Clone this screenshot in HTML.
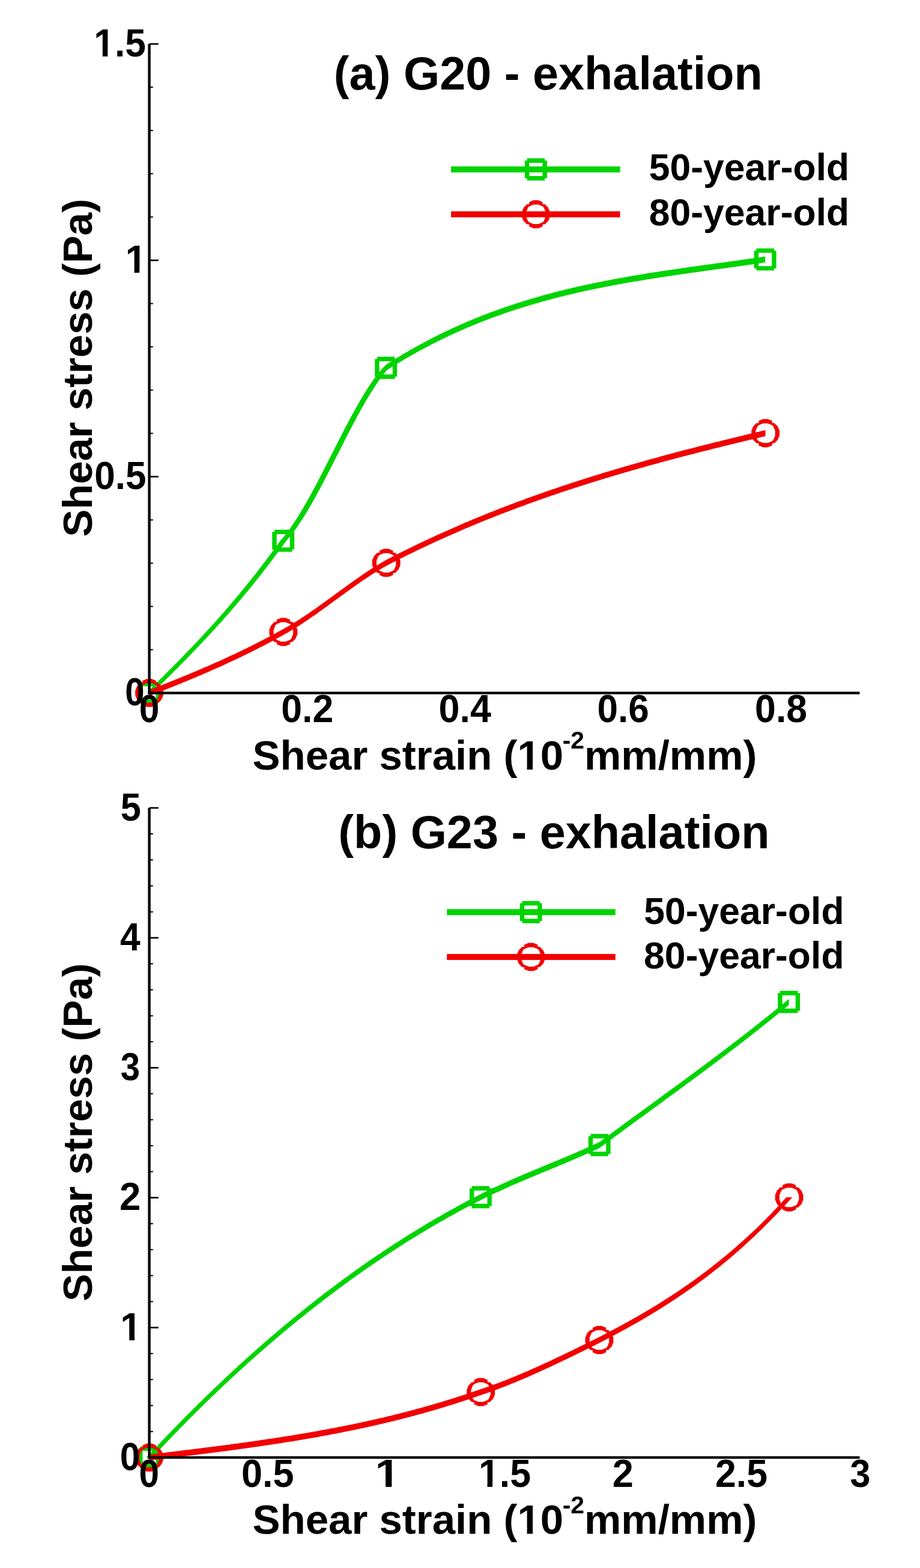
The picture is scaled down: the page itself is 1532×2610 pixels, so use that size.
<!DOCTYPE html>
<html><head><meta charset="utf-8"><title>Shear stress vs shear strain</title>
<style>
html,body{margin:0;padding:0;background:#fff;}
body{width:1532px;height:2610px;overflow:hidden;}
svg{display:block;}
text{font-family:'Liberation Sans', Arial, Helvetica, sans-serif;font-weight:bold;fill:#000;}
</style></head>
<body>
<svg xmlns="http://www.w3.org/2000/svg" width="1532" height="2610" viewBox="0 0 1532 2610">
<rect width="1532" height="2610" fill="#fff"/>
<path d="M248.60,1148.40 L250.59,1146.46 L250.59,1146.46 L252.58,1144.52 L252.58,1144.52 L254.58,1142.57 L254.58,1142.57 L256.57,1140.62 L256.57,1140.62 L258.56,1138.68 L258.56,1138.68 L260.55,1136.72 L260.55,1136.72 L262.54,1134.77 L262.54,1134.77 L264.54,1132.81 L264.54,1132.81 L266.53,1130.85 L266.53,1130.85 L268.52,1128.89 L268.52,1128.89 L270.51,1126.92 L270.51,1126.92 L272.50,1124.95 L272.50,1124.95 L274.50,1122.98 L274.50,1122.98 L276.49,1121.00 L276.49,1121.00 L278.48,1119.02 L278.48,1119.02 L280.47,1117.04 L280.47,1117.04 L282.46,1115.05 L282.46,1115.05 L284.46,1113.06 L279.46,1118.06 L281.45,1116.07 L281.45,1116.07 L283.44,1114.07 L283.44,1114.07 L285.43,1112.06 L285.43,1112.06 L287.42,1110.06 L287.42,1110.06 L289.42,1108.05 L289.42,1108.05 L291.41,1106.03 L291.41,1106.03 L293.40,1104.01 L293.40,1104.01 L295.39,1101.99 L295.39,1101.99 L297.38,1099.96 L297.38,1099.96 L299.38,1097.92 L299.38,1097.92 L301.37,1095.89 L301.37,1095.89 L303.36,1093.84 L303.36,1093.84 L305.35,1091.79 L305.35,1091.79 L307.34,1089.74 L307.34,1089.74 L309.33,1087.68 L309.33,1087.68 L311.33,1085.62 L311.33,1085.62 L313.32,1083.55 L313.32,1083.55 L315.31,1081.47 L315.31,1081.47 L317.30,1079.39 L317.30,1079.39 L319.29,1077.30 L319.29,1077.30 L321.29,1075.21 L321.29,1075.21 L323.28,1073.11 L323.28,1073.11 L325.27,1071.01 L325.27,1071.01 L327.26,1068.90 L327.26,1068.90 L329.25,1066.78 L329.25,1066.78 L331.25,1064.66 L331.25,1064.66 L333.24,1062.53 L333.24,1062.53 L335.23,1060.40 L335.23,1060.40 L337.22,1058.25 L337.22,1058.25 L339.21,1056.10 L339.21,1056.10 L341.21,1053.95 L341.21,1053.95 L343.20,1051.79 L343.20,1051.79 L345.19,1049.62 L345.19,1049.62 L347.18,1047.44 L347.18,1047.44 L349.17,1045.25 L349.17,1045.25 L351.17,1043.06 L351.17,1043.06 L353.16,1040.86 L353.16,1040.86 L355.15,1038.66 L355.15,1038.66 L357.14,1036.44 L357.14,1036.44 L359.13,1034.22 L359.13,1034.22 L361.13,1031.99 L361.13,1031.99 L363.12,1029.76 L363.12,1029.76 L365.11,1027.51 L365.11,1027.51 L367.10,1025.26 L367.10,1025.26 L369.09,1023.00 L369.09,1023.00 L371.09,1020.73 L371.09,1020.73 L373.08,1018.45 L373.08,1018.45 L375.07,1016.16 L375.07,1016.16 L377.06,1013.87 L377.06,1013.87 L379.05,1011.56 L379.05,1011.56 L381.05,1009.25 L381.05,1009.25 L383.04,1006.93 L383.04,1006.93 L385.03,1004.60 L385.03,1004.60 L387.02,1002.26 L387.02,1002.26 L389.01,999.91 L389.01,999.91 L391.01,997.55 L391.01,997.55 L393.00,995.18 L393.00,995.18 L394.99,992.81 L394.99,992.81 L396.98,990.42 L396.98,990.42 L398.97,988.02 L398.97,988.02 L400.97,985.62 L400.97,985.62 L402.96,983.20 L402.96,983.20 L404.95,980.78 L404.95,980.78 L406.94,978.34 L406.94,978.34 L408.93,975.89 L408.93,975.89 L410.92,973.44 L410.92,973.44 L412.92,970.97 L412.92,970.97 L414.91,968.49 L414.91,968.49 L416.90,966.01 L416.90,966.01 L418.89,963.51 L418.89,963.51 L420.88,961.00 L420.88,961.00 L422.88,958.48 L422.88,958.48 L424.87,955.95 L424.87,955.95 L426.86,953.41 L426.86,953.41 L428.85,950.85 L428.85,950.85 L430.84,948.29 L430.84,948.29 L432.84,945.71 L432.84,945.71 L434.83,943.13 L434.83,943.13 L436.82,940.53 L436.82,940.53 L438.81,937.92 L438.81,937.92 L440.80,935.30 L440.80,935.30 L442.80,932.66 L442.80,932.66 L444.79,930.02 L444.79,930.02 L446.78,927.36 L446.78,927.36 L448.77,924.69 L448.77,924.69 L450.76,922.01 L450.76,922.01 L452.76,919.31 L452.76,919.31 L454.75,916.61 L454.75,916.61 L456.74,913.89 L456.74,913.89 L458.73,911.16 L458.73,911.16 L460.72,908.41 L460.72,908.41 L462.72,905.65 L462.72,905.65 L464.71,902.88 L464.71,902.88 L466.70,900.10 L466.70,900.10 L468.21,898.41 L468.21,898.41 L469.73,896.68 L469.73,896.68 L471.24,894.90 L471.24,894.90 L472.75,893.08 L472.75,893.08 L474.27,891.21 L474.27,891.21 L475.78,889.30 L475.78,889.30 L477.29,887.35 L477.29,887.35 L478.81,885.36 L478.81,885.36 L480.32,883.33 L480.32,883.33 L481.83,881.26 L481.83,881.26 L483.35,879.15 L483.35,879.15 L484.86,877.01 L484.86,877.01 L486.37,874.83 L486.37,874.83 L487.89,872.61 L487.89,872.61 L489.40,870.35 L489.40,870.35 L490.91,868.07 L490.91,868.07 L492.43,865.74 L492.43,865.74 L493.94,863.39 L493.94,863.39 L495.45,861.00 L495.45,861.00 L496.97,858.59 L496.97,858.59 L498.48,856.14 L498.48,856.14 L499.99,853.66 L499.99,853.66 L501.51,851.16 L501.51,851.16 L503.02,848.63 L503.02,848.63 L504.53,846.07 L504.53,846.07 L506.05,843.48 L506.05,843.48 L507.56,840.87 L507.56,840.87 L509.07,838.23 L509.07,838.23 L510.58,835.58 L510.58,835.58 L512.10,832.89 L512.10,832.89 L513.61,830.19 L513.61,830.19 L515.12,827.47 L515.12,827.47 L516.64,824.72 L516.64,824.72 L518.15,821.96 L518.15,821.96 L519.66,819.17 L519.66,819.17 L521.18,816.37 L521.18,816.37 L522.69,813.55 L522.69,813.55 L524.20,810.72 L524.20,810.72 L525.72,807.87 L525.72,807.87 L527.23,805.01 L527.23,805.01 L528.74,802.13 L528.74,802.13 L530.26,799.24 L530.26,799.24 L531.77,796.34 L531.77,796.34 L533.28,793.42 L533.28,793.42 L534.80,790.50 L534.80,790.50 L536.31,787.56 L536.31,787.56 L537.82,784.62 L537.82,784.62 L539.34,781.67 L539.34,781.67 L540.85,778.71 L540.85,778.71 L542.36,775.75 L542.36,775.75 L543.88,772.78 L543.88,772.78 L545.39,769.80 L545.39,769.80 L546.90,766.83 L546.90,766.83 L548.42,763.85 L548.42,763.85 L549.93,760.86 L549.93,760.86 L551.44,757.88 L551.44,757.88 L552.96,754.89 L552.96,754.89 L554.47,751.91 L554.47,751.91 L555.98,748.92 L555.98,748.92 L557.50,745.94 L557.50,745.94 L559.01,742.96 L559.01,742.96 L560.52,739.99 L560.52,739.99 L562.04,737.01 L562.04,737.01 L563.55,734.05 L563.55,734.05 L565.06,731.09 L565.06,731.09 L566.58,728.13 L566.58,728.13 L568.09,725.19 L568.09,725.19 L569.60,722.25 L569.60,722.25 L571.12,719.32 L571.12,719.32 L572.63,716.41 L572.63,716.41 L574.14,713.50 L574.14,713.50 L575.66,710.60 L575.66,710.60 L577.17,707.72 L577.17,707.72 L578.68,704.85 L578.68,704.85 L580.20,702.00 L580.20,702.00 L581.71,699.16 L581.71,699.16 L583.22,696.33 L583.22,696.33 L584.74,693.53 L584.74,693.53 L586.25,690.74 L586.25,690.74 L587.76,687.97 L587.76,687.97 L589.28,685.21 L589.28,685.21 L590.79,682.48 L590.79,682.48 L592.30,679.77 L592.30,679.77 L593.82,677.08 L593.82,677.08 L595.33,674.42 L595.33,674.42 L596.84,671.77 L596.84,671.77 L598.35,669.15 L598.35,669.15 L599.87,666.56 L599.87,666.56 L601.38,663.99 L601.38,663.99 L602.89,661.45 L602.89,661.45 L604.41,658.93 L604.41,658.93 L605.92,656.44 L605.92,656.44 L607.43,653.99 L607.43,653.99 L608.95,651.56 L608.95,651.56 L610.46,649.16 L610.46,649.16 L611.97,646.80 L611.97,646.80 L613.49,644.46 L613.49,644.46 L615.00,642.16 L615.00,642.16 L616.51,639.90 L616.51,639.90 L618.03,637.67 L618.03,637.67 L619.54,635.47 L619.54,635.47 L621.05,633.31 L621.05,633.31 L622.57,631.19 L622.57,631.19 L624.08,629.10 L624.08,629.10 L625.59,627.06 L625.59,627.06 L627.11,625.05 L627.11,625.05 L628.62,623.09 L628.62,623.09 L630.13,621.17 L630.13,621.17 L631.65,619.29 L631.65,619.29 L633.16,617.45 L633.16,617.45 L634.67,615.65 L634.67,615.65 L636.19,613.90 L636.19,613.90 L637.70,612.20 L642.70,607.20 L645.52,605.39 L645.52,605.39 L648.34,603.60 L648.34,603.60 L651.16,601.82 L651.16,601.82 L653.98,600.06 L653.98,600.06 L656.80,598.31 L656.80,598.31 L659.62,596.58 L659.62,596.58 L662.43,594.86 L662.43,594.86 L665.25,593.15 L665.25,593.15 L668.07,591.46 L668.07,591.46 L670.89,589.78 L670.89,589.78 L673.71,588.12 L673.71,588.12 L676.53,586.46 L676.53,586.46 L679.35,584.83 L679.35,584.83 L682.17,583.20 L682.17,583.20 L684.99,581.59 L684.99,581.59 L687.81,580.00 L687.81,580.00 L690.63,578.41 L690.63,578.41 L693.45,576.84 L693.45,576.84 L696.26,575.29 L696.26,575.29 L699.08,573.74 L699.08,573.74 L701.90,572.21 L701.90,572.21 L704.72,570.69 L704.72,570.69 L707.54,569.19 L707.54,569.19 L710.36,567.70 L710.36,567.70 L713.18,566.22 L713.18,566.22 L716.00,564.75 L716.00,564.75 L718.82,563.30 L718.82,563.30 L721.64,561.86 L721.64,561.86 L724.46,560.43 L724.46,560.43 L727.28,559.01 L727.28,559.01 L730.10,557.61 L730.10,557.61 L732.91,556.22 L732.91,556.22 L735.73,554.84 L735.73,554.84 L738.55,553.47 L738.55,553.47 L741.37,552.12 L741.37,552.12 L744.19,550.77 L744.19,550.77 L747.01,549.44 L747.01,549.44 L749.83,548.12 L749.83,548.12 L752.65,546.81 L752.65,546.81 L755.47,545.52 L755.47,545.52 L758.29,544.23 L758.29,544.23 L761.11,542.96 L761.11,542.96 L763.93,541.70 L763.93,541.70 L766.74,540.45 L766.74,540.45 L769.56,539.21 L769.56,539.21 L772.38,537.98 L772.38,537.98 L775.20,536.77 L775.20,536.77 L778.02,535.56 L778.02,535.56 L780.84,534.37 L780.84,534.37 L783.66,533.18 L783.66,533.18 L786.48,532.01 L786.48,532.01 L789.30,530.85 L789.30,530.85 L792.12,529.70 L792.12,529.70 L794.94,528.55 L794.94,528.55 L797.76,527.42 L797.76,527.42 L800.58,526.30 L800.58,526.30 L803.39,525.20 L803.39,525.20 L806.21,524.10 L806.21,524.10 L809.03,523.01 L809.03,523.01 L811.85,521.93 L811.85,521.93 L814.67,520.86 L814.67,520.86 L817.49,519.80 L817.49,519.80 L820.31,518.75 L820.31,518.75 L823.13,517.72 L823.13,517.72 L825.95,516.69 L825.95,516.69 L828.77,515.67 L828.77,515.67 L831.59,514.66 L831.59,514.66 L834.41,513.66 L834.41,513.66 L837.22,512.67 L837.22,512.67 L840.04,511.69 L840.04,511.69 L842.86,510.72 L842.86,510.72 L845.68,509.75 L845.68,509.75 L848.50,508.80 L848.50,508.80 L851.32,507.86 L851.32,507.86 L854.14,506.92 L854.14,506.92 L856.96,506.00 L856.96,506.00 L859.78,505.08 L859.78,505.08 L862.60,504.17 L862.60,504.17 L865.42,503.27 L865.42,503.27 L868.24,502.38 L868.24,502.38 L871.05,501.50 L871.05,501.50 L873.87,500.63 L873.87,500.63 L876.69,499.76 L876.69,499.76 L879.51,498.90 L879.51,498.90 L882.33,498.06 L882.33,498.06 L885.15,497.21 L885.15,497.21 L887.97,496.38 L887.97,496.38 L890.79,495.56 L890.79,495.56 L893.61,494.74 L893.61,494.74 L896.43,493.94 L896.43,493.94 L899.25,493.14 L899.25,493.14 L902.07,492.34 L902.07,492.34 L904.89,491.56 L904.89,491.56 L907.70,490.78 L907.70,490.78 L910.52,490.01 L910.52,490.01 L913.34,489.25 L913.34,489.25 L916.16,488.50 L916.16,488.50 L918.98,487.75 L918.98,487.75 L921.80,487.01 L921.80,487.01 L924.62,486.28 L924.62,486.28 L927.44,485.55 L927.44,485.55 L930.26,484.83 L930.26,484.83 L933.08,484.12 L933.08,484.12 L935.90,483.42 L935.90,483.42 L938.72,482.72 L938.72,482.72 L941.53,482.03 L941.53,482.03 L944.35,481.34 L944.35,481.34 L947.17,480.66 L947.17,480.66 L949.99,479.99 L949.99,479.99 L952.81,479.33 L952.81,479.33 L955.63,478.67 L955.63,478.67 L958.45,478.02 L958.45,478.02 L961.27,477.37 L961.27,477.37 L964.09,476.73 L964.09,476.73 L966.91,476.10 L966.91,476.10 L969.73,475.47 L969.73,475.47 L972.55,474.85 L972.55,474.85 L975.37,474.23 L975.37,474.23 L978.18,473.62 L978.18,473.62 L981.00,473.02 L981.00,473.02 L983.82,472.42 L983.82,472.42 L986.64,471.83 L986.64,471.83 L989.46,471.24 L989.46,471.24 L992.28,470.66 L992.28,470.66 L995.10,470.08 L995.10,470.08 L997.92,469.51 L997.92,469.51 L1000.74,468.94 L1000.74,468.94 L1003.56,468.38 L1003.56,468.38 L1006.38,467.82 L1006.38,467.82 L1009.20,467.27 L1009.20,467.27 L1012.01,466.72 L1012.01,466.72 L1014.83,466.18 L1014.83,466.18 L1017.65,465.64 L1017.65,465.64 L1020.47,465.11 L1020.47,465.11 L1023.29,464.58 L1023.29,464.58 L1026.11,464.06 L1026.11,464.06 L1028.93,463.54 L1028.93,463.54 L1031.75,463.03 L1031.75,463.03 L1034.57,462.52 L1034.57,462.52 L1037.39,462.01 L1037.39,462.01 L1040.21,461.51 L1040.21,461.51 L1043.03,461.01 L1043.03,461.01 L1045.85,460.52 L1045.85,460.52 L1048.66,460.03 L1048.66,460.03 L1051.48,459.54 L1051.48,459.54 L1054.30,459.06 L1054.30,459.06 L1057.12,458.58 L1057.12,458.58 L1059.94,458.10 L1059.94,458.10 L1062.76,457.63 L1062.76,457.63 L1065.58,457.16 L1065.58,457.16 L1068.40,456.70 L1068.40,456.70 L1071.22,456.24 L1071.22,456.24 L1074.04,455.78 L1074.04,455.78 L1076.86,455.33 L1076.86,455.33 L1079.68,454.87 L1079.68,454.87 L1082.49,454.42 L1082.49,454.42 L1085.31,453.98 L1085.31,453.98 L1088.13,453.54 L1088.13,453.54 L1090.95,453.10 L1090.95,453.10 L1093.77,452.66 L1093.77,452.66 L1096.59,452.22 L1096.59,452.22 L1099.41,451.79 L1099.41,451.79 L1102.23,451.36 L1102.23,451.36 L1105.05,450.93 L1105.05,450.93 L1107.87,450.51 L1107.87,450.51 L1110.69,450.09 L1110.69,450.09 L1113.51,449.66 L1113.51,449.66 L1116.33,449.25 L1116.33,449.25 L1119.14,448.83 L1119.14,448.83 L1121.96,448.42 L1121.96,448.42 L1124.78,448.00 L1124.78,448.00 L1127.60,447.59 L1127.60,447.59 L1130.42,447.18 L1130.42,447.18 L1133.24,446.78 L1133.24,446.78 L1136.06,446.37 L1136.06,446.37 L1138.88,445.97 L1138.88,445.97 L1141.70,445.56 L1141.70,445.56 L1144.52,445.16 L1144.52,445.16 L1147.34,444.76 L1147.34,444.76 L1150.16,444.36 L1150.16,444.36 L1152.97,443.97 L1152.97,443.97 L1155.79,443.57 L1155.79,443.57 L1158.61,443.17 L1158.61,443.17 L1161.43,442.78 L1161.43,442.78 L1164.25,442.38 L1164.25,442.38 L1167.07,441.99 L1167.07,441.99 L1169.89,441.60 L1169.89,441.60 L1172.71,441.21 L1172.71,441.21 L1175.53,440.82 L1175.53,440.82 L1178.35,440.43 L1178.35,440.43 L1181.17,440.04 L1181.17,440.04 L1183.99,439.65 L1183.99,439.65 L1186.80,439.26 L1186.80,439.26 L1189.62,438.87 L1189.62,438.87 L1192.44,438.48 L1192.44,438.48 L1195.26,438.09 L1195.26,438.09 L1198.08,437.70 L1198.08,437.70 L1200.90,437.31 L1200.90,437.31 L1203.72,436.92 L1203.72,436.92 L1206.54,436.53 L1206.54,436.53 L1209.36,436.14 L1209.36,436.14 L1212.18,435.75 L1212.18,435.75 L1215.00,435.36 L1215.00,435.36 L1217.82,434.97 L1217.82,434.97 L1220.64,434.57 L1220.64,434.57 L1223.45,434.18 L1223.45,434.18 L1226.27,433.79 L1226.27,433.79 L1229.09,433.39 L1229.09,433.39 L1231.91,433.00 L1231.91,433.00 L1234.73,432.60 L1234.73,432.60 L1237.55,432.20 L1237.55,432.20 L1240.37,431.80 L1240.37,431.80 L1243.19,431.40 L1243.19,431.40 L1246.01,431.00 L1246.01,431.00 L1248.83,430.60 L1248.83,430.60 L1251.65,430.20 L1251.65,430.20 L1254.47,429.79 L1254.47,429.79 L1257.28,429.38 L1257.28,429.38 L1260.10,428.97 L1260.10,428.97 L1262.92,428.56 L1262.92,428.56 L1265.74,428.15 L1265.74,428.15 L1268.56,427.74 L1268.56,427.74 L1271.38,427.32 L1271.38,427.32 L1274.20,426.90 L1274.20,436.90 L1271.38,437.32 L1271.38,437.32 L1268.56,437.74 L1268.56,437.74 L1265.74,438.15 L1265.74,438.15 L1262.92,438.56 L1262.92,438.56 L1260.10,438.97 L1260.10,438.97 L1257.28,439.38 L1257.28,439.38 L1254.47,439.79 L1254.47,439.79 L1251.65,440.20 L1251.65,440.20 L1248.83,440.60 L1248.83,440.60 L1246.01,441.00 L1246.01,441.00 L1243.19,441.40 L1243.19,441.40 L1240.37,441.80 L1240.37,441.80 L1237.55,442.20 L1237.55,442.20 L1234.73,442.60 L1234.73,442.60 L1231.91,443.00 L1231.91,443.00 L1229.09,443.39 L1229.09,443.39 L1226.27,443.79 L1226.27,443.79 L1223.45,444.18 L1223.45,444.18 L1220.64,444.57 L1220.64,444.57 L1217.82,444.97 L1217.82,444.97 L1215.00,445.36 L1215.00,445.36 L1212.18,445.75 L1212.18,445.75 L1209.36,446.14 L1209.36,446.14 L1206.54,446.53 L1206.54,446.53 L1203.72,446.92 L1203.72,446.92 L1200.90,447.31 L1200.90,447.31 L1198.08,447.70 L1198.08,447.70 L1195.26,448.09 L1195.26,448.09 L1192.44,448.48 L1192.44,448.48 L1189.62,448.87 L1189.62,448.87 L1186.80,449.26 L1186.80,449.26 L1183.99,449.65 L1183.99,449.65 L1181.17,450.04 L1181.17,450.04 L1178.35,450.43 L1178.35,450.43 L1175.53,450.82 L1175.53,450.82 L1172.71,451.21 L1172.71,451.21 L1169.89,451.60 L1169.89,451.60 L1167.07,451.99 L1167.07,451.99 L1164.25,452.38 L1164.25,452.38 L1161.43,452.78 L1161.43,452.78 L1158.61,453.17 L1158.61,453.17 L1155.79,453.57 L1155.79,453.57 L1152.97,453.97 L1152.97,453.97 L1150.16,454.36 L1150.16,454.36 L1147.34,454.76 L1147.34,454.76 L1144.52,455.16 L1144.52,455.16 L1141.70,455.56 L1141.70,455.56 L1138.88,455.97 L1138.88,455.97 L1136.06,456.37 L1136.06,456.37 L1133.24,456.78 L1133.24,456.78 L1130.42,457.18 L1130.42,457.18 L1127.60,457.59 L1127.60,457.59 L1124.78,458.00 L1124.78,458.00 L1121.96,458.42 L1121.96,458.42 L1119.14,458.83 L1119.14,458.83 L1116.33,459.25 L1116.33,459.25 L1113.51,459.66 L1113.51,459.66 L1110.69,460.09 L1110.69,460.09 L1107.87,460.51 L1107.87,460.51 L1105.05,460.93 L1105.05,460.93 L1102.23,461.36 L1102.23,461.36 L1099.41,461.79 L1099.41,461.79 L1096.59,462.22 L1096.59,462.22 L1093.77,462.66 L1093.77,462.66 L1090.95,463.10 L1090.95,463.10 L1088.13,463.54 L1088.13,463.54 L1085.31,463.98 L1085.31,463.98 L1082.49,464.42 L1082.49,464.42 L1079.68,464.87 L1079.68,464.87 L1076.86,465.33 L1076.86,465.33 L1074.04,465.78 L1074.04,465.78 L1071.22,466.24 L1071.22,466.24 L1068.40,466.70 L1068.40,466.70 L1065.58,467.16 L1065.58,467.16 L1062.76,467.63 L1062.76,467.63 L1059.94,468.10 L1059.94,468.10 L1057.12,468.58 L1057.12,468.58 L1054.30,469.06 L1054.30,469.06 L1051.48,469.54 L1051.48,469.54 L1048.66,470.03 L1048.66,470.03 L1045.85,470.52 L1045.85,470.52 L1043.03,471.01 L1043.03,471.01 L1040.21,471.51 L1040.21,471.51 L1037.39,472.01 L1037.39,472.01 L1034.57,472.52 L1034.57,472.52 L1031.75,473.03 L1031.75,473.03 L1028.93,473.54 L1028.93,473.54 L1026.11,474.06 L1026.11,474.06 L1023.29,474.58 L1023.29,474.58 L1020.47,475.11 L1020.47,475.11 L1017.65,475.64 L1017.65,475.64 L1014.83,476.18 L1014.83,476.18 L1012.01,476.72 L1012.01,476.72 L1009.20,477.27 L1009.20,477.27 L1006.38,477.82 L1006.38,477.82 L1003.56,478.38 L1003.56,478.38 L1000.74,478.94 L1000.74,478.94 L997.92,479.51 L997.92,479.51 L995.10,480.08 L995.10,480.08 L992.28,480.66 L992.28,480.66 L989.46,481.24 L989.46,481.24 L986.64,481.83 L986.64,481.83 L983.82,482.42 L983.82,482.42 L981.00,483.02 L981.00,483.02 L978.18,483.62 L978.18,483.62 L975.37,484.23 L975.37,484.23 L972.55,484.85 L972.55,484.85 L969.73,485.47 L969.73,485.47 L966.91,486.10 L966.91,486.10 L964.09,486.73 L964.09,486.73 L961.27,487.37 L961.27,487.37 L958.45,488.02 L958.45,488.02 L955.63,488.67 L955.63,488.67 L952.81,489.33 L952.81,489.33 L949.99,489.99 L949.99,489.99 L947.17,490.66 L947.17,490.66 L944.35,491.34 L944.35,491.34 L941.53,492.03 L941.53,492.03 L938.72,492.72 L938.72,492.72 L935.90,493.42 L935.90,493.42 L933.08,494.12 L933.08,494.12 L930.26,494.83 L930.26,494.83 L927.44,495.55 L927.44,495.55 L924.62,496.28 L924.62,496.28 L921.80,497.01 L921.80,497.01 L918.98,497.75 L918.98,497.75 L916.16,498.50 L916.16,498.50 L913.34,499.25 L913.34,499.25 L910.52,500.01 L910.52,500.01 L907.70,500.78 L907.70,500.78 L904.89,501.56 L904.89,501.56 L902.07,502.34 L902.07,502.34 L899.25,503.14 L899.25,503.14 L896.43,503.94 L896.43,503.94 L893.61,504.74 L893.61,504.74 L890.79,505.56 L890.79,505.56 L887.97,506.38 L887.97,506.38 L885.15,507.21 L885.15,507.21 L882.33,508.06 L882.33,508.06 L879.51,508.90 L879.51,508.90 L876.69,509.76 L876.69,509.76 L873.87,510.63 L873.87,510.63 L871.05,511.50 L871.05,511.50 L868.24,512.38 L868.24,512.38 L865.42,513.27 L865.42,513.27 L862.60,514.17 L862.60,514.17 L859.78,515.08 L859.78,515.08 L856.96,516.00 L856.96,516.00 L854.14,516.92 L854.14,516.92 L851.32,517.86 L851.32,517.86 L848.50,518.80 L848.50,518.80 L845.68,519.75 L845.68,519.75 L842.86,520.72 L842.86,520.72 L840.04,521.69 L840.04,521.69 L837.22,522.67 L837.22,522.67 L834.41,523.66 L834.41,523.66 L831.59,524.66 L831.59,524.66 L828.77,525.67 L828.77,525.67 L825.95,526.69 L825.95,526.69 L823.13,527.72 L823.13,527.72 L820.31,528.75 L820.31,528.75 L817.49,529.80 L817.49,529.80 L814.67,530.86 L814.67,530.86 L811.85,531.93 L811.85,531.93 L809.03,533.01 L809.03,533.01 L806.21,534.10 L806.21,534.10 L803.39,535.20 L803.39,535.20 L800.58,536.30 L800.58,536.30 L797.76,537.42 L797.76,537.42 L794.94,538.55 L794.94,538.55 L792.12,539.70 L792.12,539.70 L789.30,540.85 L789.30,540.85 L786.48,542.01 L786.48,542.01 L783.66,543.18 L783.66,543.18 L780.84,544.37 L780.84,544.37 L778.02,545.56 L778.02,545.56 L775.20,546.77 L775.20,546.77 L772.38,547.98 L772.38,547.98 L769.56,549.21 L769.56,549.21 L766.74,550.45 L766.74,550.45 L763.93,551.70 L763.93,551.70 L761.11,552.96 L761.11,552.96 L758.29,554.23 L758.29,554.23 L755.47,555.52 L755.47,555.52 L752.65,556.81 L752.65,556.81 L749.83,558.12 L749.83,558.12 L747.01,559.44 L747.01,559.44 L744.19,560.77 L744.19,560.77 L741.37,562.12 L741.37,562.12 L738.55,563.47 L738.55,563.47 L735.73,564.84 L735.73,564.84 L732.91,566.22 L732.91,566.22 L730.10,567.61 L730.10,567.61 L727.28,569.01 L727.28,569.01 L724.46,570.43 L724.46,570.43 L721.64,571.86 L721.64,571.86 L718.82,573.30 L718.82,573.30 L716.00,574.75 L716.00,574.75 L713.18,576.22 L713.18,576.22 L710.36,577.70 L710.36,577.70 L707.54,579.19 L707.54,579.19 L704.72,580.69 L704.72,580.69 L701.90,582.21 L701.90,582.21 L699.08,583.74 L699.08,583.74 L696.26,585.29 L696.26,585.29 L693.45,586.84 L693.45,586.84 L690.63,588.41 L690.63,588.41 L687.81,590.00 L687.81,590.00 L684.99,591.59 L684.99,591.59 L682.17,593.20 L682.17,593.20 L679.35,594.83 L679.35,594.83 L676.53,596.46 L676.53,596.46 L673.71,598.12 L673.71,598.12 L670.89,599.78 L670.89,599.78 L668.07,601.46 L668.07,601.46 L665.25,603.15 L665.25,603.15 L662.43,604.86 L662.43,604.86 L659.62,606.58 L659.62,606.58 L656.80,608.31 L656.80,608.31 L653.98,610.06 L653.98,610.06 L651.16,611.82 L651.16,611.82 L648.34,613.60 L648.34,613.60 L645.52,615.39 L645.52,615.39 L642.70,617.20 L647.70,612.20 L646.19,613.90 L646.19,613.90 L644.67,615.65 L644.67,615.65 L643.16,617.45 L643.16,617.45 L641.65,619.29 L641.65,619.29 L640.13,621.17 L640.13,621.17 L638.62,623.09 L638.62,623.09 L637.11,625.05 L637.11,625.05 L635.59,627.06 L635.59,627.06 L634.08,629.10 L634.08,629.10 L632.57,631.19 L632.57,631.19 L631.05,633.31 L631.05,633.31 L629.54,635.47 L629.54,635.47 L628.03,637.67 L628.03,637.67 L626.51,639.90 L626.51,639.90 L625.00,642.16 L625.00,642.16 L623.49,644.46 L623.49,644.46 L621.97,646.80 L621.97,646.80 L620.46,649.16 L620.46,649.16 L618.95,651.56 L618.95,651.56 L617.43,653.99 L617.43,653.99 L615.92,656.44 L615.92,656.44 L614.41,658.93 L614.41,658.93 L612.89,661.45 L612.89,661.45 L611.38,663.99 L611.38,663.99 L609.87,666.56 L609.87,666.56 L608.35,669.15 L608.35,669.15 L606.84,671.77 L606.84,671.77 L605.33,674.42 L605.33,674.42 L603.82,677.08 L603.82,677.08 L602.30,679.77 L602.30,679.77 L600.79,682.48 L600.79,682.48 L599.28,685.21 L599.28,685.21 L597.76,687.97 L597.76,687.97 L596.25,690.74 L596.25,690.74 L594.74,693.53 L594.74,693.53 L593.22,696.33 L593.22,696.33 L591.71,699.16 L591.71,699.16 L590.20,702.00 L590.20,702.00 L588.68,704.85 L588.68,704.85 L587.17,707.72 L587.17,707.72 L585.66,710.60 L585.66,710.60 L584.14,713.50 L584.14,713.50 L582.63,716.41 L582.63,716.41 L581.12,719.32 L581.12,719.32 L579.60,722.25 L579.60,722.25 L578.09,725.19 L578.09,725.19 L576.58,728.13 L576.58,728.13 L575.06,731.09 L575.06,731.09 L573.55,734.05 L573.55,734.05 L572.04,737.01 L572.04,737.01 L570.52,739.99 L570.52,739.99 L569.01,742.96 L569.01,742.96 L567.50,745.94 L567.50,745.94 L565.98,748.92 L565.98,748.92 L564.47,751.91 L564.47,751.91 L562.96,754.89 L562.96,754.89 L561.44,757.88 L561.44,757.88 L559.93,760.86 L559.93,760.86 L558.42,763.85 L558.42,763.85 L556.90,766.83 L556.90,766.83 L555.39,769.80 L555.39,769.80 L553.88,772.78 L553.88,772.78 L552.36,775.75 L552.36,775.75 L550.85,778.71 L550.85,778.71 L549.34,781.67 L549.34,781.67 L547.82,784.62 L547.82,784.62 L546.31,787.56 L546.31,787.56 L544.80,790.50 L544.80,790.50 L543.28,793.42 L543.28,793.42 L541.77,796.34 L541.77,796.34 L540.26,799.24 L540.26,799.24 L538.74,802.13 L538.74,802.13 L537.23,805.01 L537.23,805.01 L535.72,807.87 L535.72,807.87 L534.20,810.72 L534.20,810.72 L532.69,813.55 L532.69,813.55 L531.18,816.37 L531.18,816.37 L529.66,819.17 L529.66,819.17 L528.15,821.96 L528.15,821.96 L526.64,824.72 L526.64,824.72 L525.12,827.47 L525.12,827.47 L523.61,830.19 L523.61,830.19 L522.10,832.89 L522.10,832.89 L520.58,835.58 L520.58,835.58 L519.07,838.23 L519.07,838.23 L517.56,840.87 L517.56,840.87 L516.05,843.48 L516.05,843.48 L514.53,846.07 L514.53,846.07 L513.02,848.63 L513.02,848.63 L511.51,851.16 L511.51,851.16 L509.99,853.66 L509.99,853.66 L508.48,856.14 L508.48,856.14 L506.97,858.59 L506.97,858.59 L505.45,861.00 L505.45,861.00 L503.94,863.39 L503.94,863.39 L502.43,865.74 L502.43,865.74 L500.91,868.07 L500.91,868.07 L499.40,870.35 L499.40,870.35 L497.89,872.61 L497.89,872.61 L496.37,874.83 L496.37,874.83 L494.86,877.01 L494.86,877.01 L493.35,879.15 L493.35,879.15 L491.83,881.26 L491.83,881.26 L490.32,883.33 L490.32,883.33 L488.81,885.36 L488.81,885.36 L487.29,887.35 L487.29,887.35 L485.78,889.30 L485.78,889.30 L484.27,891.21 L484.27,891.21 L482.75,893.08 L482.75,893.08 L481.24,894.90 L481.24,894.90 L479.73,896.68 L479.73,896.68 L478.21,898.41 L478.21,898.41 L476.70,900.10 L476.70,900.10 L474.71,902.88 L474.71,902.88 L472.72,905.65 L472.72,905.65 L470.72,908.41 L470.72,908.41 L468.73,911.16 L468.73,911.16 L466.74,913.89 L466.74,913.89 L464.75,916.61 L464.75,916.61 L462.76,919.31 L462.76,919.31 L460.76,922.01 L460.76,922.01 L458.77,924.69 L458.77,924.69 L456.78,927.36 L456.78,927.36 L454.79,930.02 L454.79,930.02 L452.80,932.66 L452.80,932.66 L450.80,935.30 L450.80,935.30 L448.81,937.92 L448.81,937.92 L446.82,940.53 L446.82,940.53 L444.83,943.13 L444.83,943.13 L442.84,945.71 L442.84,945.71 L440.84,948.29 L440.84,948.29 L438.85,950.85 L438.85,950.85 L436.86,953.41 L436.86,953.41 L434.87,955.95 L434.87,955.95 L432.88,958.48 L432.88,958.48 L430.88,961.00 L430.88,961.00 L428.89,963.51 L428.89,963.51 L426.90,966.01 L426.90,966.01 L424.91,968.49 L424.91,968.49 L422.92,970.97 L422.92,970.97 L420.92,973.44 L420.92,973.44 L418.93,975.89 L418.93,975.89 L416.94,978.34 L416.94,978.34 L414.95,980.78 L414.95,980.78 L412.96,983.20 L412.96,983.20 L410.97,985.62 L410.97,985.62 L408.97,988.02 L408.97,988.02 L406.98,990.42 L406.98,990.42 L404.99,992.81 L404.99,992.81 L403.00,995.18 L403.00,995.18 L401.01,997.55 L401.01,997.55 L399.01,999.91 L399.01,999.91 L397.02,1002.26 L397.02,1002.26 L395.03,1004.60 L395.03,1004.60 L393.04,1006.93 L393.04,1006.93 L391.05,1009.25 L391.05,1009.25 L389.05,1011.56 L389.05,1011.56 L387.06,1013.87 L387.06,1013.87 L385.07,1016.16 L385.07,1016.16 L383.08,1018.45 L383.08,1018.45 L381.09,1020.73 L381.09,1020.73 L379.09,1023.00 L379.09,1023.00 L377.10,1025.26 L377.10,1025.26 L375.11,1027.51 L375.11,1027.51 L373.12,1029.76 L373.12,1029.76 L371.13,1031.99 L371.13,1031.99 L369.13,1034.22 L369.13,1034.22 L367.14,1036.44 L367.14,1036.44 L365.15,1038.66 L365.15,1038.66 L363.16,1040.86 L363.16,1040.86 L361.17,1043.06 L361.17,1043.06 L359.17,1045.25 L359.17,1045.25 L357.18,1047.44 L357.18,1047.44 L355.19,1049.62 L355.19,1049.62 L353.20,1051.79 L353.20,1051.79 L351.21,1053.95 L351.21,1053.95 L349.21,1056.10 L349.21,1056.10 L347.22,1058.25 L347.22,1058.25 L345.23,1060.40 L345.23,1060.40 L343.24,1062.53 L343.24,1062.53 L341.25,1064.66 L341.25,1064.66 L339.25,1066.78 L339.25,1066.78 L337.26,1068.90 L337.26,1068.90 L335.27,1071.01 L335.27,1071.01 L333.28,1073.11 L333.28,1073.11 L331.29,1075.21 L331.29,1075.21 L329.29,1077.30 L329.29,1077.30 L327.30,1079.39 L327.30,1079.39 L325.31,1081.47 L325.31,1081.47 L323.32,1083.55 L323.32,1083.55 L321.33,1085.62 L321.33,1085.62 L319.33,1087.68 L319.33,1087.68 L317.34,1089.74 L317.34,1089.74 L315.35,1091.79 L315.35,1091.79 L313.36,1093.84 L313.36,1093.84 L311.37,1095.89 L311.37,1095.89 L309.38,1097.92 L309.38,1097.92 L307.38,1099.96 L307.38,1099.96 L305.39,1101.99 L305.39,1101.99 L303.40,1104.01 L303.40,1104.01 L301.41,1106.03 L301.41,1106.03 L299.42,1108.05 L299.42,1108.05 L297.42,1110.06 L297.42,1110.06 L295.43,1112.06 L295.43,1112.06 L293.44,1114.07 L293.44,1114.07 L291.45,1116.07 L291.45,1116.07 L289.46,1118.06 L284.46,1123.06 L282.46,1125.05 L282.46,1125.05 L280.47,1127.04 L280.47,1127.04 L278.48,1129.02 L278.48,1129.02 L276.49,1131.00 L276.49,1131.00 L274.50,1132.98 L274.50,1132.98 L272.50,1134.95 L272.50,1134.95 L270.51,1136.92 L270.51,1136.92 L268.52,1138.89 L268.52,1138.89 L266.53,1140.85 L266.53,1140.85 L264.54,1142.81 L264.54,1142.81 L262.54,1144.77 L262.54,1144.77 L260.55,1146.72 L260.55,1146.72 L258.56,1148.68 L258.56,1148.68 L256.57,1150.62 L256.57,1150.62 L254.58,1152.57 L254.58,1152.57 L252.58,1154.52 L252.58,1154.52 L250.59,1156.46 L250.59,1156.46 L248.60,1158.40Z" fill="#00d400"/>
<path d="M233.85,1134.95 L263.35,1134.95 L263.35,1142.35 L233.85,1142.35Z M267.05,1138.65 L267.05,1168.15 L259.65,1168.15 L259.65,1138.65Z M263.35,1171.85 L233.85,1171.85 L233.85,1164.45 L263.35,1164.45Z M230.15,1168.15 L230.15,1138.65 L237.55,1138.65 L237.55,1168.15Z" fill="#00d400"/>
<path d="M456.95,881.65 L486.45,881.65 L486.45,889.05 L456.95,889.05Z M490.15,885.35 L490.15,914.85 L482.75,914.85 L482.75,885.35Z M486.45,918.55 L456.95,918.55 L456.95,911.15 L486.45,911.15Z M453.25,914.85 L453.25,885.35 L460.65,885.35 L460.65,914.85Z" fill="#00d400"/>
<path d="M627.95,593.75 L657.45,593.75 L657.45,601.15 L627.95,601.15Z M661.15,597.45 L661.15,626.95 L653.75,626.95 L653.75,597.45Z M657.45,630.65 L627.95,630.65 L627.95,623.25 L657.45,623.25Z M624.25,626.95 L624.25,597.45 L631.65,597.45 L631.65,626.95Z" fill="#00d400"/>
<path d="M1259.45,413.45 L1288.95,413.45 L1288.95,420.85 L1259.45,420.85Z M1292.65,417.15 L1292.65,446.65 L1285.25,446.65 L1285.25,417.15Z M1288.95,450.35 L1259.45,450.35 L1259.45,442.95 L1288.95,442.95Z M1255.75,446.65 L1255.75,417.15 L1263.15,417.15 L1263.15,446.65Z" fill="#00d400"/>
<path d="M248.60,1148.40 L251.36,1147.33 L251.36,1147.33 L254.11,1146.27 L254.11,1146.27 L256.87,1145.19 L256.87,1145.19 L259.63,1144.12 L259.63,1144.12 L262.38,1143.05 L262.38,1143.05 L265.14,1141.97 L265.14,1141.97 L267.90,1140.89 L267.90,1140.89 L270.65,1139.80 L270.65,1139.80 L273.41,1138.72 L273.41,1138.72 L276.17,1137.63 L276.17,1137.63 L278.92,1136.53 L278.92,1136.53 L281.68,1135.44 L281.68,1135.44 L284.44,1134.34 L284.44,1134.34 L287.20,1133.24 L287.20,1133.24 L289.95,1132.13 L289.95,1132.13 L292.71,1131.02 L292.71,1131.02 L295.47,1129.91 L295.47,1129.91 L298.22,1128.79 L298.22,1128.79 L300.98,1127.67 L300.98,1127.67 L303.74,1126.55 L303.74,1126.55 L306.49,1125.42 L306.49,1125.42 L309.25,1124.29 L309.25,1124.29 L312.01,1123.15 L312.01,1123.15 L314.76,1122.01 L314.76,1122.01 L317.52,1120.86 L317.52,1120.86 L320.28,1119.71 L320.28,1119.71 L323.03,1118.56 L323.03,1118.56 L325.79,1117.40 L325.79,1117.40 L328.55,1116.24 L328.55,1116.24 L331.30,1115.07 L331.30,1115.07 L334.06,1113.89 L334.06,1113.89 L336.82,1112.72 L336.82,1112.72 L339.57,1111.53 L339.57,1111.53 L342.33,1110.34 L342.33,1110.34 L345.09,1109.15 L345.09,1109.15 L347.84,1107.95 L347.84,1107.95 L350.60,1106.75 L350.60,1106.75 L353.36,1105.54 L353.36,1105.54 L356.11,1104.32 L356.11,1104.32 L358.87,1103.10 L358.87,1103.10 L361.63,1101.87 L361.63,1101.87 L364.39,1100.64 L364.39,1100.64 L367.14,1099.40 L367.14,1099.40 L369.90,1098.15 L369.90,1098.15 L372.66,1096.90 L372.66,1096.90 L375.41,1095.64 L375.41,1095.64 L378.17,1094.37 L378.17,1094.37 L380.93,1093.10 L380.93,1093.10 L383.68,1091.83 L383.68,1091.83 L386.44,1090.54 L386.44,1090.54 L389.20,1089.25 L389.20,1089.25 L391.95,1087.95 L391.95,1087.95 L394.71,1086.65 L394.71,1086.65 L397.47,1085.33 L397.47,1085.33 L400.22,1084.01 L400.22,1084.01 L402.98,1082.69 L402.98,1082.69 L405.74,1081.35 L405.74,1081.35 L408.49,1080.01 L408.49,1080.01 L411.25,1078.66 L411.25,1078.66 L414.01,1077.31 L414.01,1077.31 L416.76,1075.94 L416.76,1075.94 L419.52,1074.57 L419.52,1074.57 L422.28,1073.19 L422.28,1073.19 L425.03,1071.80 L425.03,1071.80 L427.79,1070.41 L427.79,1070.41 L430.55,1069.00 L430.55,1069.00 L433.30,1067.59 L433.30,1067.59 L436.06,1066.17 L436.06,1066.17 L438.82,1064.74 L438.82,1064.74 L441.58,1063.30 L441.58,1063.30 L444.33,1061.86 L444.33,1061.86 L447.09,1060.40 L447.09,1060.40 L449.85,1058.94 L449.85,1058.94 L452.60,1057.47 L452.60,1057.47 L455.36,1055.98 L455.36,1055.98 L458.12,1054.49 L458.12,1054.49 L460.87,1052.99 L460.87,1052.99 L463.63,1051.48 L463.63,1051.48 L466.39,1049.97 L466.39,1049.97 L469.14,1048.44 L469.14,1048.44 L471.90,1046.90 L471.90,1046.90 L474.38,1045.54 L474.38,1045.54 L476.87,1044.15 L476.87,1044.15 L479.35,1042.74 L479.35,1042.74 L481.83,1041.30 L481.83,1041.30 L484.31,1039.84 L484.31,1039.84 L486.80,1038.36 L486.80,1038.36 L489.28,1036.85 L489.28,1036.85 L491.76,1035.33 L491.76,1035.33 L494.24,1033.78 L494.24,1033.78 L496.73,1032.21 L496.73,1032.21 L499.21,1030.63 L499.21,1030.63 L501.69,1029.02 L501.69,1029.02 L504.17,1027.40 L504.17,1027.40 L506.66,1025.76 L506.66,1025.76 L509.14,1024.11 L509.14,1024.11 L511.62,1022.44 L511.62,1022.44 L514.10,1020.75 L514.10,1020.75 L516.59,1019.05 L516.59,1019.05 L519.07,1017.34 L519.07,1017.34 L521.55,1015.62 L521.55,1015.62 L524.03,1013.88 L524.03,1013.88 L526.52,1012.14 L526.52,1012.14 L529.00,1010.38 L529.00,1010.38 L531.48,1008.62 L531.48,1008.62 L533.97,1006.84 L533.97,1006.84 L536.45,1005.06 L536.45,1005.06 L538.93,1003.27 L538.93,1003.27 L541.41,1001.48 L541.41,1001.48 L543.90,999.68 L543.90,999.68 L546.38,997.87 L546.38,997.87 L548.86,996.06 L548.86,996.06 L551.34,994.25 L551.34,994.25 L553.83,992.44 L553.83,992.44 L556.31,990.62 L556.31,990.62 L558.79,988.81 L558.79,988.81 L561.27,986.99 L561.27,986.99 L563.76,985.17 L563.76,985.17 L566.24,983.36 L566.24,983.36 L568.72,981.54 L568.72,981.54 L571.20,979.73 L571.20,979.73 L573.69,977.93 L573.69,977.93 L576.17,976.12 L576.17,976.12 L578.65,974.33 L578.65,974.33 L581.13,972.54 L581.13,972.54 L583.62,970.75 L583.62,970.75 L586.10,968.98 L586.10,968.98 L588.58,967.21 L588.58,967.21 L591.07,965.45 L591.07,965.45 L593.55,963.70 L593.55,963.70 L596.03,961.96 L596.03,961.96 L598.51,960.23 L598.51,960.23 L601.00,958.51 L601.00,958.51 L603.48,956.81 L603.48,956.81 L605.96,955.12 L605.96,955.12 L608.44,953.44 L608.44,953.44 L610.93,951.78 L610.93,951.78 L613.41,950.14 L613.41,950.14 L615.89,948.51 L615.89,948.51 L618.37,946.90 L618.37,946.90 L620.86,945.30 L620.86,945.30 L623.34,943.73 L623.34,943.73 L625.82,942.17 L625.82,942.17 L628.30,940.64 L628.30,940.64 L630.79,939.13 L630.79,939.13 L633.27,937.63 L633.27,937.63 L635.75,936.16 L635.75,936.16 L638.23,934.72 L638.23,934.72 L640.72,933.30 L640.72,933.30 L643.20,931.90 L643.20,931.90 L646.03,930.43 L646.03,930.43 L648.86,928.97 L648.86,928.97 L651.69,927.52 L651.69,927.52 L654.53,926.07 L654.53,926.07 L657.36,924.63 L657.36,924.63 L660.19,923.19 L660.19,923.19 L663.02,921.76 L663.02,921.76 L665.85,920.34 L665.85,920.34 L668.68,918.92 L668.68,918.92 L671.51,917.51 L671.51,917.51 L674.35,916.11 L674.35,916.11 L677.18,914.71 L677.18,914.71 L680.01,913.31 L680.01,913.31 L682.84,911.93 L682.84,911.93 L685.67,910.55 L685.67,910.55 L688.50,909.17 L688.50,909.17 L691.33,907.80 L691.33,907.80 L694.17,906.44 L694.17,906.44 L697.00,905.08 L697.00,905.08 L699.83,903.73 L699.83,903.73 L702.66,902.39 L702.66,902.39 L705.49,901.05 L705.49,901.05 L708.32,899.71 L708.32,899.71 L711.15,898.38 L711.15,898.38 L713.98,897.06 L713.98,897.06 L716.82,895.74 L716.82,895.74 L719.65,894.43 L719.65,894.43 L722.48,893.13 L722.48,893.13 L725.31,891.83 L725.31,891.83 L728.14,890.53 L728.14,890.53 L730.97,889.25 L730.97,889.25 L733.80,887.96 L733.80,887.96 L736.64,886.68 L736.64,886.68 L739.47,885.41 L739.47,885.41 L742.30,884.15 L742.30,884.15 L745.13,882.89 L745.13,882.89 L747.96,881.63 L747.96,881.63 L750.79,880.38 L750.79,880.38 L753.62,879.13 L753.62,879.13 L756.46,877.90 L756.46,877.90 L759.29,876.66 L759.29,876.66 L762.12,875.43 L762.12,875.43 L764.95,874.21 L764.95,874.21 L767.78,872.99 L767.78,872.99 L770.61,871.78 L770.61,871.78 L773.44,870.57 L773.44,870.57 L776.28,869.37 L776.28,869.37 L779.11,868.17 L779.11,868.17 L781.94,866.98 L781.94,866.98 L784.77,865.79 L784.77,865.79 L787.60,864.61 L787.60,864.61 L790.43,863.43 L790.43,863.43 L793.26,862.26 L793.26,862.26 L796.10,861.09 L796.10,861.09 L798.93,859.93 L798.93,859.93 L801.76,858.77 L801.76,858.77 L804.59,857.62 L804.59,857.62 L807.42,856.48 L807.42,856.48 L810.25,855.33 L810.25,855.33 L813.08,854.20 L813.08,854.20 L815.91,853.06 L815.91,853.06 L818.75,851.94 L818.75,851.94 L821.58,850.81 L821.58,850.81 L824.41,849.70 L824.41,849.70 L827.24,848.58 L827.24,848.58 L830.07,847.47 L830.07,847.47 L832.90,846.37 L832.90,846.37 L835.73,845.27 L835.73,845.27 L838.57,844.18 L838.57,844.18 L841.40,843.09 L841.40,843.09 L844.23,842.00 L844.23,842.00 L847.06,840.92 L847.06,840.92 L849.89,839.85 L849.89,839.85 L852.72,838.77 L852.72,838.77 L855.55,837.71 L855.55,837.71 L858.39,836.64 L858.39,836.64 L861.22,835.59 L861.22,835.59 L864.05,834.53 L864.05,834.53 L866.88,833.48 L866.88,833.48 L869.71,832.44 L869.71,832.44 L872.54,831.40 L872.54,831.40 L875.37,830.36 L875.37,830.36 L878.21,829.33 L878.21,829.33 L881.04,828.30 L881.04,828.30 L883.87,827.28 L883.87,827.28 L886.70,826.26 L886.70,826.26 L889.53,825.25 L889.53,825.25 L892.36,824.23 L892.36,824.23 L895.19,823.23 L895.19,823.23 L898.03,822.23 L898.03,822.23 L900.86,821.23 L900.86,821.23 L903.69,820.23 L903.69,820.23 L906.52,819.24 L906.52,819.24 L909.35,818.26 L909.35,818.26 L912.18,817.28 L912.18,817.28 L915.01,816.30 L915.01,816.30 L917.84,815.32 L917.84,815.32 L920.68,814.35 L920.68,814.35 L923.51,813.39 L923.51,813.39 L926.34,812.43 L926.34,812.43 L929.17,811.47 L929.17,811.47 L932.00,810.51 L932.00,810.51 L934.83,809.56 L934.83,809.56 L937.66,808.61 L937.66,808.61 L940.50,807.67 L940.50,807.67 L943.33,806.73 L943.33,806.73 L946.16,805.80 L946.16,805.80 L948.99,804.86 L948.99,804.86 L951.82,803.94 L951.82,803.94 L954.65,803.01 L954.65,803.01 L957.48,802.09 L957.48,802.09 L960.32,801.17 L960.32,801.17 L963.15,800.26 L963.15,800.26 L965.98,799.35 L965.98,799.35 L968.81,798.44 L968.81,798.44 L971.64,797.54 L971.64,797.54 L974.47,796.64 L974.47,796.64 L977.30,795.74 L977.30,795.74 L980.14,794.85 L980.14,794.85 L982.97,793.96 L982.97,793.96 L985.80,793.07 L985.80,793.07 L988.63,792.19 L988.63,792.19 L991.46,791.31 L991.46,791.31 L994.29,790.44 L994.29,790.44 L997.12,789.56 L997.12,789.56 L999.96,788.69 L999.96,788.69 L1002.79,787.83 L1002.79,787.83 L1005.62,786.96 L1005.62,786.96 L1008.45,786.10 L1008.45,786.10 L1011.28,785.25 L1011.28,785.25 L1014.11,784.39 L1014.11,784.39 L1016.94,783.54 L1016.94,783.54 L1019.77,782.70 L1019.77,782.70 L1022.61,781.85 L1022.61,781.85 L1025.44,781.01 L1025.44,781.01 L1028.27,780.17 L1028.27,780.17 L1031.10,779.34 L1031.10,779.34 L1033.93,778.51 L1033.93,778.51 L1036.76,777.68 L1036.76,777.68 L1039.59,776.85 L1039.59,776.85 L1042.43,776.03 L1042.43,776.03 L1045.26,775.20 L1045.26,775.20 L1048.09,774.39 L1048.09,774.39 L1050.92,773.57 L1050.92,773.57 L1053.75,772.76 L1053.75,772.76 L1056.58,771.95 L1056.58,771.95 L1059.41,771.14 L1059.41,771.14 L1062.25,770.34 L1062.25,770.34 L1065.08,769.54 L1065.08,769.54 L1067.91,768.74 L1067.91,768.74 L1070.74,767.94 L1070.74,767.94 L1073.57,767.15 L1073.57,767.15 L1076.40,766.36 L1076.40,766.36 L1079.23,765.57 L1079.23,765.57 L1082.07,764.79 L1082.07,764.79 L1084.90,764.00 L1084.90,764.00 L1087.73,763.22 L1087.73,763.22 L1090.56,762.44 L1090.56,762.44 L1093.39,761.67 L1093.39,761.67 L1096.22,760.89 L1096.22,760.89 L1099.05,760.12 L1099.05,760.12 L1101.89,759.36 L1101.89,759.36 L1104.72,758.59 L1104.72,758.59 L1107.55,757.83 L1107.55,757.83 L1110.38,757.06 L1110.38,757.06 L1113.21,756.30 L1113.21,756.30 L1116.04,755.55 L1116.04,755.55 L1118.87,754.79 L1118.87,754.79 L1121.70,754.04 L1121.70,754.04 L1124.54,753.29 L1124.54,753.29 L1127.37,752.54 L1127.37,752.54 L1130.20,751.80 L1130.20,751.80 L1133.03,751.05 L1133.03,751.05 L1135.86,750.31 L1135.86,750.31 L1138.69,749.57 L1138.69,749.57 L1141.52,748.83 L1141.52,748.83 L1144.36,748.10 L1144.36,748.10 L1147.19,747.36 L1147.19,747.36 L1150.02,746.63 L1150.02,746.63 L1152.85,745.90 L1152.85,745.90 L1155.68,745.17 L1155.68,745.17 L1158.51,744.45 L1158.51,744.45 L1161.34,743.72 L1161.34,743.72 L1164.18,743.00 L1164.18,743.00 L1167.01,742.28 L1167.01,742.28 L1169.84,741.56 L1169.84,741.56 L1172.67,740.84 L1172.67,740.84 L1175.50,740.13 L1175.50,740.13 L1178.33,739.41 L1178.33,739.41 L1181.16,738.70 L1181.16,738.70 L1184.00,737.99 L1184.00,737.99 L1186.83,737.28 L1186.83,737.28 L1189.66,736.58 L1189.66,736.58 L1192.49,735.87 L1192.49,735.87 L1195.32,735.17 L1195.32,735.17 L1198.15,734.47 L1198.15,734.47 L1200.98,733.77 L1200.98,733.77 L1203.82,733.07 L1203.82,733.07 L1206.65,732.37 L1206.65,732.37 L1209.48,731.67 L1209.48,731.67 L1212.31,730.98 L1212.31,730.98 L1215.14,730.28 L1215.14,730.28 L1217.97,729.59 L1217.97,729.59 L1220.80,728.90 L1220.80,728.90 L1223.63,728.21 L1223.63,728.21 L1226.47,727.52 L1226.47,727.52 L1229.30,726.84 L1229.30,726.84 L1232.13,726.15 L1232.13,726.15 L1234.96,725.47 L1234.96,725.47 L1237.79,724.78 L1237.79,724.78 L1240.62,724.10 L1240.62,724.10 L1243.45,723.42 L1243.45,723.42 L1246.29,722.74 L1246.29,722.74 L1249.12,722.06 L1249.12,722.06 L1251.95,721.38 L1251.95,721.38 L1254.78,720.71 L1254.78,720.71 L1257.61,720.03 L1257.61,720.03 L1260.44,719.36 L1260.44,719.36 L1263.27,718.68 L1263.27,718.68 L1266.11,718.01 L1266.11,718.01 L1268.94,717.34 L1268.94,717.34 L1271.77,716.67 L1271.77,716.67 L1274.60,716.00 L1274.60,726.00 L1271.77,726.67 L1271.77,726.67 L1268.94,727.34 L1268.94,727.34 L1266.11,728.01 L1266.11,728.01 L1263.27,728.68 L1263.27,728.68 L1260.44,729.36 L1260.44,729.36 L1257.61,730.03 L1257.61,730.03 L1254.78,730.71 L1254.78,730.71 L1251.95,731.38 L1251.95,731.38 L1249.12,732.06 L1249.12,732.06 L1246.29,732.74 L1246.29,732.74 L1243.45,733.42 L1243.45,733.42 L1240.62,734.10 L1240.62,734.10 L1237.79,734.78 L1237.79,734.78 L1234.96,735.47 L1234.96,735.47 L1232.13,736.15 L1232.13,736.15 L1229.30,736.84 L1229.30,736.84 L1226.47,737.52 L1226.47,737.52 L1223.63,738.21 L1223.63,738.21 L1220.80,738.90 L1220.80,738.90 L1217.97,739.59 L1217.97,739.59 L1215.14,740.28 L1215.14,740.28 L1212.31,740.98 L1212.31,740.98 L1209.48,741.67 L1209.48,741.67 L1206.65,742.37 L1206.65,742.37 L1203.82,743.07 L1203.82,743.07 L1200.98,743.77 L1200.98,743.77 L1198.15,744.47 L1198.15,744.47 L1195.32,745.17 L1195.32,745.17 L1192.49,745.87 L1192.49,745.87 L1189.66,746.58 L1189.66,746.58 L1186.83,747.28 L1186.83,747.28 L1184.00,747.99 L1184.00,747.99 L1181.16,748.70 L1181.16,748.70 L1178.33,749.41 L1178.33,749.41 L1175.50,750.13 L1175.50,750.13 L1172.67,750.84 L1172.67,750.84 L1169.84,751.56 L1169.84,751.56 L1167.01,752.28 L1167.01,752.28 L1164.18,753.00 L1164.18,753.00 L1161.34,753.72 L1161.34,753.72 L1158.51,754.45 L1158.51,754.45 L1155.68,755.17 L1155.68,755.17 L1152.85,755.90 L1152.85,755.90 L1150.02,756.63 L1150.02,756.63 L1147.19,757.36 L1147.19,757.36 L1144.36,758.10 L1144.36,758.10 L1141.52,758.83 L1141.52,758.83 L1138.69,759.57 L1138.69,759.57 L1135.86,760.31 L1135.86,760.31 L1133.03,761.05 L1133.03,761.05 L1130.20,761.80 L1130.20,761.80 L1127.37,762.54 L1127.37,762.54 L1124.54,763.29 L1124.54,763.29 L1121.70,764.04 L1121.70,764.04 L1118.87,764.79 L1118.87,764.79 L1116.04,765.55 L1116.04,765.55 L1113.21,766.30 L1113.21,766.30 L1110.38,767.06 L1110.38,767.06 L1107.55,767.83 L1107.55,767.83 L1104.72,768.59 L1104.72,768.59 L1101.89,769.36 L1101.89,769.36 L1099.05,770.12 L1099.05,770.12 L1096.22,770.89 L1096.22,770.89 L1093.39,771.67 L1093.39,771.67 L1090.56,772.44 L1090.56,772.44 L1087.73,773.22 L1087.73,773.22 L1084.90,774.00 L1084.90,774.00 L1082.07,774.79 L1082.07,774.79 L1079.23,775.57 L1079.23,775.57 L1076.40,776.36 L1076.40,776.36 L1073.57,777.15 L1073.57,777.15 L1070.74,777.94 L1070.74,777.94 L1067.91,778.74 L1067.91,778.74 L1065.08,779.54 L1065.08,779.54 L1062.25,780.34 L1062.25,780.34 L1059.41,781.14 L1059.41,781.14 L1056.58,781.95 L1056.58,781.95 L1053.75,782.76 L1053.75,782.76 L1050.92,783.57 L1050.92,783.57 L1048.09,784.39 L1048.09,784.39 L1045.26,785.20 L1045.26,785.20 L1042.43,786.03 L1042.43,786.03 L1039.59,786.85 L1039.59,786.85 L1036.76,787.68 L1036.76,787.68 L1033.93,788.51 L1033.93,788.51 L1031.10,789.34 L1031.10,789.34 L1028.27,790.17 L1028.27,790.17 L1025.44,791.01 L1025.44,791.01 L1022.61,791.85 L1022.61,791.85 L1019.77,792.70 L1019.77,792.70 L1016.94,793.54 L1016.94,793.54 L1014.11,794.39 L1014.11,794.39 L1011.28,795.25 L1011.28,795.25 L1008.45,796.10 L1008.45,796.10 L1005.62,796.96 L1005.62,796.96 L1002.79,797.83 L1002.79,797.83 L999.96,798.69 L999.96,798.69 L997.12,799.56 L997.12,799.56 L994.29,800.44 L994.29,800.44 L991.46,801.31 L991.46,801.31 L988.63,802.19 L988.63,802.19 L985.80,803.07 L985.80,803.07 L982.97,803.96 L982.97,803.96 L980.14,804.85 L980.14,804.85 L977.30,805.74 L977.30,805.74 L974.47,806.64 L974.47,806.64 L971.64,807.54 L971.64,807.54 L968.81,808.44 L968.81,808.44 L965.98,809.35 L965.98,809.35 L963.15,810.26 L963.15,810.26 L960.32,811.17 L960.32,811.17 L957.48,812.09 L957.48,812.09 L954.65,813.01 L954.65,813.01 L951.82,813.94 L951.82,813.94 L948.99,814.86 L948.99,814.86 L946.16,815.80 L946.16,815.80 L943.33,816.73 L943.33,816.73 L940.50,817.67 L940.50,817.67 L937.66,818.61 L937.66,818.61 L934.83,819.56 L934.83,819.56 L932.00,820.51 L932.00,820.51 L929.17,821.47 L929.17,821.47 L926.34,822.43 L926.34,822.43 L923.51,823.39 L923.51,823.39 L920.68,824.35 L920.68,824.35 L917.84,825.32 L917.84,825.32 L915.01,826.30 L915.01,826.30 L912.18,827.28 L912.18,827.28 L909.35,828.26 L909.35,828.26 L906.52,829.24 L906.52,829.24 L903.69,830.23 L903.69,830.23 L900.86,831.23 L900.86,831.23 L898.03,832.23 L898.03,832.23 L895.19,833.23 L895.19,833.23 L892.36,834.23 L892.36,834.23 L889.53,835.25 L889.53,835.25 L886.70,836.26 L886.70,836.26 L883.87,837.28 L883.87,837.28 L881.04,838.30 L881.04,838.30 L878.21,839.33 L878.21,839.33 L875.37,840.36 L875.37,840.36 L872.54,841.40 L872.54,841.40 L869.71,842.44 L869.71,842.44 L866.88,843.48 L866.88,843.48 L864.05,844.53 L864.05,844.53 L861.22,845.59 L861.22,845.59 L858.39,846.64 L858.39,846.64 L855.55,847.71 L855.55,847.71 L852.72,848.77 L852.72,848.77 L849.89,849.85 L849.89,849.85 L847.06,850.92 L847.06,850.92 L844.23,852.00 L844.23,852.00 L841.40,853.09 L841.40,853.09 L838.57,854.18 L838.57,854.18 L835.73,855.27 L835.73,855.27 L832.90,856.37 L832.90,856.37 L830.07,857.47 L830.07,857.47 L827.24,858.58 L827.24,858.58 L824.41,859.70 L824.41,859.70 L821.58,860.81 L821.58,860.81 L818.75,861.94 L818.75,861.94 L815.91,863.06 L815.91,863.06 L813.08,864.20 L813.08,864.20 L810.25,865.33 L810.25,865.33 L807.42,866.48 L807.42,866.48 L804.59,867.62 L804.59,867.62 L801.76,868.77 L801.76,868.77 L798.93,869.93 L798.93,869.93 L796.10,871.09 L796.10,871.09 L793.26,872.26 L793.26,872.26 L790.43,873.43 L790.43,873.43 L787.60,874.61 L787.60,874.61 L784.77,875.79 L784.77,875.79 L781.94,876.98 L781.94,876.98 L779.11,878.17 L779.11,878.17 L776.28,879.37 L776.28,879.37 L773.44,880.57 L773.44,880.57 L770.61,881.78 L770.61,881.78 L767.78,882.99 L767.78,882.99 L764.95,884.21 L764.95,884.21 L762.12,885.43 L762.12,885.43 L759.29,886.66 L759.29,886.66 L756.46,887.90 L756.46,887.90 L753.62,889.13 L753.62,889.13 L750.79,890.38 L750.79,890.38 L747.96,891.63 L747.96,891.63 L745.13,892.89 L745.13,892.89 L742.30,894.15 L742.30,894.15 L739.47,895.41 L739.47,895.41 L736.64,896.68 L736.64,896.68 L733.80,897.96 L733.80,897.96 L730.97,899.25 L730.97,899.25 L728.14,900.53 L728.14,900.53 L725.31,901.83 L725.31,901.83 L722.48,903.13 L722.48,903.13 L719.65,904.43 L719.65,904.43 L716.82,905.74 L716.82,905.74 L713.98,907.06 L713.98,907.06 L711.15,908.38 L711.15,908.38 L708.32,909.71 L708.32,909.71 L705.49,911.05 L705.49,911.05 L702.66,912.39 L702.66,912.39 L699.83,913.73 L699.83,913.73 L697.00,915.08 L697.00,915.08 L694.17,916.44 L694.17,916.44 L691.33,917.80 L691.33,917.80 L688.50,919.17 L688.50,919.17 L685.67,920.55 L685.67,920.55 L682.84,921.93 L682.84,921.93 L680.01,923.31 L680.01,923.31 L677.18,924.71 L677.18,924.71 L674.35,926.11 L674.35,926.11 L671.51,927.51 L671.51,927.51 L668.68,928.92 L668.68,928.92 L665.85,930.34 L665.85,930.34 L663.02,931.76 L663.02,931.76 L660.19,933.19 L660.19,933.19 L657.36,934.63 L657.36,934.63 L654.53,936.07 L654.53,936.07 L651.69,937.52 L651.69,937.52 L648.86,938.97 L648.86,938.97 L646.03,940.43 L646.03,940.43 L643.20,941.90 L643.20,941.90 L640.72,943.30 L640.72,943.30 L638.23,944.72 L638.23,944.72 L635.75,946.16 L635.75,946.16 L633.27,947.63 L633.27,947.63 L630.79,949.13 L630.79,949.13 L628.30,950.64 L628.30,950.64 L625.82,952.17 L625.82,952.17 L623.34,953.73 L623.34,953.73 L620.86,955.30 L620.86,955.30 L618.37,956.90 L618.37,956.90 L615.89,958.51 L615.89,958.51 L613.41,960.14 L613.41,960.14 L610.93,961.78 L610.93,961.78 L608.44,963.44 L608.44,963.44 L605.96,965.12 L605.96,965.12 L603.48,966.81 L603.48,966.81 L601.00,968.51 L601.00,968.51 L598.51,970.23 L598.51,970.23 L596.03,971.96 L596.03,971.96 L593.55,973.70 L593.55,973.70 L591.07,975.45 L591.07,975.45 L588.58,977.21 L588.58,977.21 L586.10,978.98 L586.10,978.98 L583.62,980.75 L583.62,980.75 L581.13,982.54 L581.13,982.54 L578.65,984.33 L578.65,984.33 L576.17,986.12 L576.17,986.12 L573.69,987.93 L573.69,987.93 L571.20,989.73 L571.20,989.73 L568.72,991.54 L568.72,991.54 L566.24,993.36 L566.24,993.36 L563.76,995.17 L563.76,995.17 L561.27,996.99 L561.27,996.99 L558.79,998.81 L558.79,998.81 L556.31,1000.62 L556.31,1000.62 L553.83,1002.44 L553.83,1002.44 L551.34,1004.25 L551.34,1004.25 L548.86,1006.06 L548.86,1006.06 L546.38,1007.87 L546.38,1007.87 L543.90,1009.68 L543.90,1009.68 L541.41,1011.48 L541.41,1011.48 L538.93,1013.27 L538.93,1013.27 L536.45,1015.06 L536.45,1015.06 L533.97,1016.84 L533.97,1016.84 L531.48,1018.62 L531.48,1018.62 L529.00,1020.38 L529.00,1020.38 L526.52,1022.14 L526.52,1022.14 L524.03,1023.88 L524.03,1023.88 L521.55,1025.62 L521.55,1025.62 L519.07,1027.34 L519.07,1027.34 L516.59,1029.05 L516.59,1029.05 L514.10,1030.75 L514.10,1030.75 L511.62,1032.44 L511.62,1032.44 L509.14,1034.11 L509.14,1034.11 L506.66,1035.76 L506.66,1035.76 L504.17,1037.40 L504.17,1037.40 L501.69,1039.02 L501.69,1039.02 L499.21,1040.63 L499.21,1040.63 L496.73,1042.21 L496.73,1042.21 L494.24,1043.78 L494.24,1043.78 L491.76,1045.33 L491.76,1045.33 L489.28,1046.85 L489.28,1046.85 L486.80,1048.36 L486.80,1048.36 L484.31,1049.84 L484.31,1049.84 L481.83,1051.30 L481.83,1051.30 L479.35,1052.74 L479.35,1052.74 L476.87,1054.15 L476.87,1054.15 L474.38,1055.54 L474.38,1055.54 L471.90,1056.90 L471.90,1056.90 L469.14,1058.44 L469.14,1058.44 L466.39,1059.97 L466.39,1059.97 L463.63,1061.48 L463.63,1061.48 L460.87,1062.99 L460.87,1062.99 L458.12,1064.49 L458.12,1064.49 L455.36,1065.98 L455.36,1065.98 L452.60,1067.47 L452.60,1067.47 L449.85,1068.94 L449.85,1068.94 L447.09,1070.40 L447.09,1070.40 L444.33,1071.86 L444.33,1071.86 L441.58,1073.30 L441.58,1073.30 L438.82,1074.74 L438.82,1074.74 L436.06,1076.17 L436.06,1076.17 L433.30,1077.59 L433.30,1077.59 L430.55,1079.00 L430.55,1079.00 L427.79,1080.41 L427.79,1080.41 L425.03,1081.80 L425.03,1081.80 L422.28,1083.19 L422.28,1083.19 L419.52,1084.57 L419.52,1084.57 L416.76,1085.94 L416.76,1085.94 L414.01,1087.31 L414.01,1087.31 L411.25,1088.66 L411.25,1088.66 L408.49,1090.01 L408.49,1090.01 L405.74,1091.35 L405.74,1091.35 L402.98,1092.69 L402.98,1092.69 L400.22,1094.01 L400.22,1094.01 L397.47,1095.33 L397.47,1095.33 L394.71,1096.65 L394.71,1096.65 L391.95,1097.95 L391.95,1097.95 L389.20,1099.25 L389.20,1099.25 L386.44,1100.54 L386.44,1100.54 L383.68,1101.83 L383.68,1101.83 L380.93,1103.10 L380.93,1103.10 L378.17,1104.37 L378.17,1104.37 L375.41,1105.64 L375.41,1105.64 L372.66,1106.90 L372.66,1106.90 L369.90,1108.15 L369.90,1108.15 L367.14,1109.40 L367.14,1109.40 L364.39,1110.64 L364.39,1110.64 L361.63,1111.87 L361.63,1111.87 L358.87,1113.10 L358.87,1113.10 L356.11,1114.32 L356.11,1114.32 L353.36,1115.54 L353.36,1115.54 L350.60,1116.75 L350.60,1116.75 L347.84,1117.95 L347.84,1117.95 L345.09,1119.15 L345.09,1119.15 L342.33,1120.34 L342.33,1120.34 L339.57,1121.53 L339.57,1121.53 L336.82,1122.72 L336.82,1122.72 L334.06,1123.89 L334.06,1123.89 L331.30,1125.07 L331.30,1125.07 L328.55,1126.24 L328.55,1126.24 L325.79,1127.40 L325.79,1127.40 L323.03,1128.56 L323.03,1128.56 L320.28,1129.71 L320.28,1129.71 L317.52,1130.86 L317.52,1130.86 L314.76,1132.01 L314.76,1132.01 L312.01,1133.15 L312.01,1133.15 L309.25,1134.29 L309.25,1134.29 L306.49,1135.42 L306.49,1135.42 L303.74,1136.55 L303.74,1136.55 L300.98,1137.67 L300.98,1137.67 L298.22,1138.79 L298.22,1138.79 L295.47,1139.91 L295.47,1139.91 L292.71,1141.02 L292.71,1141.02 L289.95,1142.13 L289.95,1142.13 L287.20,1143.24 L287.20,1143.24 L284.44,1144.34 L284.44,1144.34 L281.68,1145.44 L281.68,1145.44 L278.92,1146.53 L278.92,1146.53 L276.17,1147.63 L276.17,1147.63 L273.41,1148.72 L273.41,1148.72 L270.65,1149.80 L270.65,1149.80 L267.90,1150.89 L267.90,1150.89 L265.14,1151.97 L265.14,1151.97 L262.38,1153.05 L262.38,1153.05 L259.63,1154.12 L259.63,1154.12 L256.87,1155.19 L256.87,1155.19 L254.11,1156.27 L254.11,1156.27 L251.36,1157.33 L251.36,1157.33 L248.60,1158.40Z" fill="#f20000"/>
<path d="M272.01,1157.34 L269.00,1164.62 L261.80,1164.62 L264.81,1157.34Z M269.00,1164.62 L263.42,1170.20 L256.22,1170.20 L261.80,1164.62Z M259.82,1173.80 L252.54,1176.81 L252.54,1169.61 L259.82,1166.60Z M252.54,1176.81 L244.66,1176.81 L244.66,1169.61 L252.54,1169.61Z M244.66,1176.81 L237.38,1173.80 L237.38,1166.60 L244.66,1169.61Z M233.78,1170.20 L228.20,1164.62 L235.40,1164.62 L240.98,1170.20Z M228.20,1164.62 L225.19,1157.34 L232.39,1157.34 L235.40,1164.62Z M225.19,1157.34 L225.19,1149.46 L232.39,1149.46 L232.39,1157.34Z M225.19,1149.46 L228.20,1142.18 L235.40,1142.18 L232.39,1149.46Z M228.20,1142.18 L233.78,1136.60 L240.98,1136.60 L235.40,1142.18Z M237.38,1133.00 L244.66,1129.99 L244.66,1137.19 L237.38,1140.20Z M244.66,1129.99 L252.54,1129.99 L252.54,1137.19 L244.66,1137.19Z M252.54,1129.99 L259.82,1133.00 L259.82,1140.20 L252.54,1137.19Z M263.42,1136.60 L269.00,1142.18 L261.80,1142.18 L256.22,1136.60Z M269.00,1142.18 L272.01,1149.46 L264.81,1149.46 L261.80,1142.18Z M272.01,1149.46 L272.01,1157.34 L264.81,1157.34 L264.81,1149.46Z" fill="#f20000"/>
<path d="M495.31,1055.84 L492.30,1063.12 L485.10,1063.12 L488.11,1055.84Z M492.30,1063.12 L486.72,1068.70 L479.52,1068.70 L485.10,1063.12Z M483.12,1072.30 L475.84,1075.31 L475.84,1068.11 L483.12,1065.10Z M475.84,1075.31 L467.96,1075.31 L467.96,1068.11 L475.84,1068.11Z M467.96,1075.31 L460.68,1072.30 L460.68,1065.10 L467.96,1068.11Z M457.08,1068.70 L451.50,1063.12 L458.70,1063.12 L464.28,1068.70Z M451.50,1063.12 L448.49,1055.84 L455.69,1055.84 L458.70,1063.12Z M448.49,1055.84 L448.49,1047.96 L455.69,1047.96 L455.69,1055.84Z M448.49,1047.96 L451.50,1040.68 L458.70,1040.68 L455.69,1047.96Z M451.50,1040.68 L457.08,1035.10 L464.28,1035.10 L458.70,1040.68Z M460.68,1031.50 L467.96,1028.49 L467.96,1035.69 L460.68,1038.70Z M467.96,1028.49 L475.84,1028.49 L475.84,1035.69 L467.96,1035.69Z M475.84,1028.49 L483.12,1031.50 L483.12,1038.70 L475.84,1035.69Z M486.72,1035.10 L492.30,1040.68 L485.10,1040.68 L479.52,1035.10Z M492.30,1040.68 L495.31,1047.96 L488.11,1047.96 L485.10,1040.68Z M495.31,1047.96 L495.31,1055.84 L488.11,1055.84 L488.11,1047.96Z" fill="#f20000"/>
<path d="M666.61,940.84 L663.60,948.12 L656.40,948.12 L659.41,940.84Z M663.60,948.12 L658.02,953.70 L650.82,953.70 L656.40,948.12Z M654.42,957.30 L647.14,960.31 L647.14,953.11 L654.42,950.10Z M647.14,960.31 L639.26,960.31 L639.26,953.11 L647.14,953.11Z M639.26,960.31 L631.98,957.30 L631.98,950.10 L639.26,953.11Z M628.38,953.70 L622.80,948.12 L630.00,948.12 L635.58,953.70Z M622.80,948.12 L619.79,940.84 L626.99,940.84 L630.00,948.12Z M619.79,940.84 L619.79,932.96 L626.99,932.96 L626.99,940.84Z M619.79,932.96 L622.80,925.68 L630.00,925.68 L626.99,932.96Z M622.80,925.68 L628.38,920.10 L635.58,920.10 L630.00,925.68Z M631.98,916.50 L639.26,913.49 L639.26,920.69 L631.98,923.70Z M639.26,913.49 L647.14,913.49 L647.14,920.69 L639.26,920.69Z M647.14,913.49 L654.42,916.50 L654.42,923.70 L647.14,920.69Z M658.02,920.10 L663.60,925.68 L656.40,925.68 L650.82,920.10Z M663.60,925.68 L666.61,932.96 L659.41,932.96 L656.40,925.68Z M666.61,932.96 L666.61,940.84 L659.41,940.84 L659.41,932.96Z" fill="#f20000"/>
<path d="M1298.01,724.94 L1295.00,732.22 L1287.80,732.22 L1290.81,724.94Z M1295.00,732.22 L1289.42,737.80 L1282.22,737.80 L1287.80,732.22Z M1285.82,741.40 L1278.54,744.41 L1278.54,737.21 L1285.82,734.20Z M1278.54,744.41 L1270.66,744.41 L1270.66,737.21 L1278.54,737.21Z M1270.66,744.41 L1263.38,741.40 L1263.38,734.20 L1270.66,737.21Z M1259.78,737.80 L1254.20,732.22 L1261.40,732.22 L1266.98,737.80Z M1254.20,732.22 L1251.19,724.94 L1258.39,724.94 L1261.40,732.22Z M1251.19,724.94 L1251.19,717.06 L1258.39,717.06 L1258.39,724.94Z M1251.19,717.06 L1254.20,709.78 L1261.40,709.78 L1258.39,717.06Z M1254.20,709.78 L1259.78,704.20 L1266.98,704.20 L1261.40,709.78Z M1263.38,700.60 L1270.66,697.59 L1270.66,704.79 L1263.38,707.80Z M1270.66,697.59 L1278.54,697.59 L1278.54,704.79 L1270.66,704.79Z M1278.54,697.59 L1285.82,700.60 L1285.82,707.80 L1278.54,704.79Z M1289.42,704.20 L1295.00,709.78 L1287.80,709.78 L1282.22,704.20Z M1295.00,709.78 L1298.01,717.06 L1290.81,717.06 L1287.80,709.78Z M1298.01,717.06 L1298.01,724.94 L1290.81,724.94 L1290.81,717.06Z" fill="#f20000"/>
<rect x="246.40" y="73.20" width="4.4" height="1082.40" fill="#000"/>
<rect x="246.40" y="1151.40" width="1185.10" height="4.2" fill="#000"/>
<rect x="248.60" y="1080.48" width="6.20" height="2.0" fill="#000"/>
<rect x="248.60" y="1008.46" width="6.20" height="2.0" fill="#000"/>
<rect x="248.60" y="936.44" width="6.20" height="2.0" fill="#000"/>
<rect x="248.60" y="864.42" width="6.20" height="2.0" fill="#000"/>
<rect x="248.60" y="792.10" width="15.30" height="2.6" fill="#000"/>
<rect x="248.60" y="720.38" width="6.20" height="2.0" fill="#000"/>
<rect x="248.60" y="648.36" width="6.20" height="2.0" fill="#000"/>
<rect x="248.60" y="576.34" width="6.20" height="2.0" fill="#000"/>
<rect x="248.60" y="504.32" width="6.20" height="2.0" fill="#000"/>
<rect x="248.60" y="432.00" width="15.30" height="2.6" fill="#000"/>
<rect x="248.60" y="360.28" width="6.20" height="2.0" fill="#000"/>
<rect x="248.60" y="288.26" width="6.20" height="2.0" fill="#000"/>
<rect x="248.60" y="216.24" width="6.20" height="2.0" fill="#000"/>
<rect x="248.60" y="144.22" width="6.20" height="2.0" fill="#000"/>
<rect x="248.60" y="71.90" width="15.30" height="2.6" fill="#000"/>
<g transform="translate(156.23,93.90) scale(0.9681,1)"><text x="0" y="0" font-size="64.5">1.5</text><rect x="2.56" y="-8.08" width="12.49" height="9.58" fill="#fff"/><rect x="23.90" y="-8.08" width="11.67" height="9.58" fill="#fff"/></g>
<g transform="translate(208.63,454.00) scale(0.9900,1)"><text x="0" y="0" font-size="64.5">1</text><rect x="2.56" y="-8.08" width="12.49" height="9.58" fill="#fff"/><rect x="23.90" y="-8.08" width="11.67" height="9.58" fill="#fff"/></g>
<g transform="translate(157.35,814.10) scale(0.9623,1)"><text x="0" y="0" font-size="64.5">0.5</text></g>
<g transform="translate(208.20,1174.20) scale(0.9030,1)"><text x="0" y="0" font-size="64.5">0</text></g>
<g transform="translate(231.70,1202.00) scale(0.9389,1)"><text x="0" y="0" font-size="64.5">0</text></g>
<g transform="translate(468.23,1202.00) scale(0.9701,1)"><text x="0" y="0" font-size="64.5">0.2</text></g>
<g transform="translate(730.51,1202.00) scale(0.9750,1)"><text x="0" y="0" font-size="64.5">0.4</text></g>
<g transform="translate(994.54,1202.00) scale(0.9625,1)"><text x="0" y="0" font-size="64.5">0.6</text></g>
<g transform="translate(1257.02,1202.00) scale(0.9726,1)"><text x="0" y="0" font-size="64.5">0.8</text></g>
<text x="555.85" y="148.90" font-size="77.4">(a) G20 - exhalation</text>
<rect x="751.10" y="277.00" width="281.40" height="10" fill="#00d400"/>
<path d="M877.65,263.55 L907.15,263.55 L907.15,270.95 L877.65,270.95Z M910.85,267.25 L910.85,296.75 L903.45,296.75 L903.45,267.25Z M907.15,300.45 L877.65,300.45 L877.65,293.05 L907.15,293.05Z M873.95,296.75 L873.95,267.25 L881.35,267.25 L881.35,296.75Z" fill="#00d400"/>
<rect x="751.10" y="351.70" width="281.40" height="10" fill="#f20000"/>
<path d="M915.81,360.64 L912.80,367.92 L905.60,367.92 L908.61,360.64Z M912.80,367.92 L907.22,373.50 L900.02,373.50 L905.60,367.92Z M903.62,377.10 L896.34,380.11 L896.34,372.91 L903.62,369.90Z M896.34,380.11 L888.46,380.11 L888.46,372.91 L896.34,372.91Z M888.46,380.11 L881.18,377.10 L881.18,369.90 L888.46,372.91Z M877.58,373.50 L872.00,367.92 L879.20,367.92 L884.78,373.50Z M872.00,367.92 L868.99,360.64 L876.19,360.64 L879.20,367.92Z M868.99,360.64 L868.99,352.76 L876.19,352.76 L876.19,360.64Z M868.99,352.76 L872.00,345.48 L879.20,345.48 L876.19,352.76Z M872.00,345.48 L877.58,339.90 L884.78,339.90 L879.20,345.48Z M881.18,336.30 L888.46,333.29 L888.46,340.49 L881.18,343.50Z M888.46,333.29 L896.34,333.29 L896.34,340.49 L888.46,340.49Z M896.34,333.29 L903.62,336.30 L903.62,343.50 L896.34,340.49Z M907.22,339.90 L912.80,345.48 L905.60,345.48 L900.02,339.90Z M912.80,345.48 L915.81,352.76 L908.61,352.76 L905.60,345.48Z M915.81,352.76 L915.81,360.64 L908.61,360.64 L908.61,352.76Z" fill="#f20000"/>
<text x="1080.78" y="300.40" font-size="62.5">50-year-old</text>
<text x="1080.72" y="375.10" font-size="62.5">80-year-old</text>
<text transform="translate(152.50,893.80) rotate(-90)" font-size="68.9">Shear stress (Pa)</text>
<text y="1281.00" font-size="69"><tspan x="420.5">Shear strain (10</tspan><tspan x="936.7" y="1246.30" font-size="41">-2</tspan><tspan x="973" y="1281.00">mm/mm)</tspan></text>
<rect x="864.33" y="1272.46" width="13.26" height="10.04" fill="#fff"/>
<rect x="887.06" y="1272.46" width="12.38" height="10.04" fill="#fff"/>
<path d="M243.60,2426.10 L245.94,2423.59 L245.94,2423.59 L248.28,2421.09 L248.28,2421.09 L250.61,2418.59 L250.61,2418.59 L252.95,2416.10 L252.95,2416.10 L255.29,2413.61 L255.29,2413.61 L257.63,2411.13 L257.63,2411.13 L259.97,2408.66 L259.97,2408.66 L262.31,2406.19 L262.31,2406.19 L264.64,2403.73 L264.64,2403.73 L266.98,2401.27 L266.98,2401.27 L269.32,2398.82 L269.32,2398.82 L271.66,2396.38 L271.66,2396.38 L274.00,2393.94 L274.00,2393.94 L276.33,2391.51 L276.33,2391.51 L278.67,2389.08 L278.67,2389.08 L281.01,2386.66 L281.01,2386.66 L283.35,2384.24 L283.35,2384.24 L285.69,2381.83 L285.69,2381.83 L288.02,2379.43 L288.02,2379.43 L290.36,2377.03 L290.36,2377.03 L292.70,2374.64 L292.70,2374.64 L295.04,2372.26 L295.04,2372.26 L297.38,2369.88 L297.38,2369.88 L299.72,2367.50 L299.72,2367.50 L302.05,2365.14 L302.05,2365.14 L304.39,2362.77 L304.39,2362.77 L306.73,2360.42 L306.73,2360.42 L309.07,2358.07 L309.07,2358.07 L311.41,2355.72 L311.41,2355.72 L313.74,2353.39 L318.74,2348.39 L321.08,2346.05 L321.08,2346.05 L323.42,2343.73 L323.42,2343.73 L325.76,2341.41 L325.76,2341.41 L328.10,2339.09 L328.10,2339.09 L330.43,2336.78 L330.43,2336.78 L332.77,2334.48 L332.77,2334.48 L335.11,2332.18 L335.11,2332.18 L337.45,2329.89 L337.45,2329.89 L339.79,2327.60 L339.79,2327.60 L342.13,2325.32 L342.13,2325.32 L344.46,2323.05 L344.46,2323.05 L346.80,2320.78 L346.80,2320.78 L349.14,2318.52 L349.14,2318.52 L351.48,2316.26 L351.48,2316.26 L353.82,2314.01 L353.82,2314.01 L356.15,2311.77 L356.15,2311.77 L358.49,2309.53 L358.49,2309.53 L360.83,2307.29 L360.83,2307.29 L363.17,2305.07 L363.17,2305.07 L365.51,2302.84 L365.51,2302.84 L367.84,2300.63 L367.84,2300.63 L370.18,2298.42 L370.18,2298.42 L372.52,2296.21 L372.52,2296.21 L374.86,2294.01 L374.86,2294.01 L377.20,2291.82 L377.20,2291.82 L379.54,2289.63 L379.54,2289.63 L381.87,2287.45 L381.87,2287.45 L384.21,2285.28 L384.21,2285.28 L386.55,2283.11 L386.55,2283.11 L388.89,2280.94 L388.89,2280.94 L391.23,2278.79 L391.23,2278.79 L393.56,2276.63 L393.56,2276.63 L395.90,2274.49 L395.90,2274.49 L398.24,2272.35 L398.24,2272.35 L400.58,2270.21 L400.58,2270.21 L402.92,2268.08 L402.92,2268.08 L405.26,2265.96 L405.26,2265.96 L407.59,2263.84 L407.59,2263.84 L409.93,2261.73 L409.93,2261.73 L412.27,2259.62 L412.27,2259.62 L414.61,2257.52 L414.61,2257.52 L416.95,2255.43 L416.95,2255.43 L419.28,2253.34 L419.28,2253.34 L421.62,2251.26 L421.62,2251.26 L423.96,2249.18 L423.96,2249.18 L426.30,2247.11 L426.30,2247.11 L428.64,2245.04 L428.64,2245.04 L430.97,2242.98 L430.97,2242.98 L433.31,2240.93 L433.31,2240.93 L435.65,2238.88 L435.65,2238.88 L437.99,2236.83 L437.99,2236.83 L440.33,2234.80 L440.33,2234.80 L442.67,2232.77 L442.67,2232.77 L445.00,2230.74 L445.00,2230.74 L447.34,2228.72 L447.34,2228.72 L449.68,2226.70 L449.68,2226.70 L452.02,2224.70 L452.02,2224.70 L454.36,2222.69 L454.36,2222.69 L456.69,2220.70 L456.69,2220.70 L459.03,2218.70 L459.03,2218.70 L461.37,2216.72 L461.37,2216.72 L463.71,2214.74 L463.71,2214.74 L466.05,2212.76 L466.05,2212.76 L468.38,2210.79 L468.38,2210.79 L470.72,2208.83 L470.72,2208.83 L473.06,2206.87 L473.06,2206.87 L475.40,2204.92 L475.40,2204.92 L477.74,2202.98 L477.74,2202.98 L480.08,2201.04 L480.08,2201.04 L482.41,2199.10 L482.41,2199.10 L484.75,2197.17 L484.75,2197.17 L487.09,2195.25 L487.09,2195.25 L489.43,2193.33 L489.43,2193.33 L491.77,2191.42 L491.77,2191.42 L494.10,2189.51 L494.10,2189.51 L496.44,2187.61 L496.44,2187.61 L498.78,2185.72 L498.78,2185.72 L501.12,2183.83 L501.12,2183.83 L503.46,2181.94 L503.46,2181.94 L505.79,2180.06 L505.79,2180.06 L508.13,2178.19 L508.13,2178.19 L510.47,2176.32 L510.47,2176.32 L512.81,2174.46 L512.81,2174.46 L515.15,2172.61 L515.15,2172.61 L517.49,2170.76 L517.49,2170.76 L519.82,2168.91 L519.82,2168.91 L522.16,2167.08 L522.16,2167.08 L524.50,2165.24 L524.50,2165.24 L526.84,2163.41 L526.84,2163.41 L529.18,2161.59 L529.18,2161.59 L531.51,2159.78 L531.51,2159.78 L533.85,2157.97 L533.85,2157.97 L536.19,2156.16 L536.19,2156.16 L538.53,2154.36 L538.53,2154.36 L540.87,2152.57 L540.87,2152.57 L543.21,2150.78 L543.21,2150.78 L545.54,2149.00 L545.54,2149.00 L547.88,2147.22 L547.88,2147.22 L550.22,2145.45 L550.22,2145.45 L552.56,2143.68 L552.56,2143.68 L554.90,2141.92 L554.90,2141.92 L557.23,2140.17 L557.23,2140.17 L559.57,2138.42 L559.57,2138.42 L561.91,2136.68 L561.91,2136.68 L564.25,2134.94 L564.25,2134.94 L566.59,2133.21 L566.59,2133.21 L568.92,2131.48 L568.92,2131.48 L571.26,2129.76 L571.26,2129.76 L573.60,2128.04 L573.60,2128.04 L575.94,2126.33 L575.94,2126.33 L578.28,2124.63 L578.28,2124.63 L580.62,2122.93 L580.62,2122.93 L582.95,2121.24 L582.95,2121.24 L585.29,2119.55 L585.29,2119.55 L587.63,2117.87 L587.63,2117.87 L589.97,2116.19 L589.97,2116.19 L592.31,2114.52 L592.31,2114.52 L594.64,2112.85 L594.64,2112.85 L596.98,2111.19 L596.98,2111.19 L599.32,2109.54 L599.32,2109.54 L601.66,2107.89 L601.66,2107.89 L604.00,2106.25 L604.00,2106.25 L606.33,2104.61 L606.33,2104.61 L608.67,2102.98 L608.67,2102.98 L611.01,2101.35 L611.01,2101.35 L613.35,2099.73 L613.35,2099.73 L615.69,2098.11 L615.69,2098.11 L618.03,2096.50 L618.03,2096.50 L620.36,2094.90 L620.36,2094.90 L622.70,2093.30 L622.70,2093.30 L625.04,2091.71 L625.04,2091.71 L627.38,2090.12 L627.38,2090.12 L629.72,2088.53 L629.72,2088.53 L632.05,2086.96 L632.05,2086.96 L634.39,2085.39 L634.39,2085.39 L636.73,2083.82 L636.73,2083.82 L639.07,2082.26 L639.07,2082.26 L641.41,2080.70 L641.41,2080.70 L643.74,2079.15 L643.74,2079.15 L646.08,2077.61 L646.08,2077.61 L648.42,2076.07 L648.42,2076.07 L650.76,2074.54 L650.76,2074.54 L653.10,2073.01 L653.10,2073.01 L655.44,2071.49 L655.44,2071.49 L657.77,2069.97 L657.77,2069.97 L660.11,2068.46 L660.11,2068.46 L662.45,2066.95 L662.45,2066.95 L664.79,2065.45 L664.79,2065.45 L667.13,2063.96 L667.13,2063.96 L669.46,2062.47 L669.46,2062.47 L671.80,2060.99 L671.80,2060.99 L674.14,2059.51 L674.14,2059.51 L676.48,2058.03 L676.48,2058.03 L678.82,2056.57 L678.82,2056.57 L681.16,2055.11 L681.16,2055.11 L683.49,2053.65 L683.49,2053.65 L685.83,2052.20 L685.83,2052.20 L688.17,2050.75 L688.17,2050.75 L690.51,2049.31 L690.51,2049.31 L692.85,2047.88 L692.85,2047.88 L695.18,2046.45 L695.18,2046.45 L697.52,2045.02 L697.52,2045.02 L699.86,2043.60 L699.86,2043.60 L702.20,2042.19 L702.20,2042.19 L704.54,2040.78 L704.54,2040.78 L706.87,2039.38 L706.87,2039.38 L709.21,2037.98 L709.21,2037.98 L711.55,2036.59 L711.55,2036.59 L713.89,2035.21 L713.89,2035.21 L716.23,2033.83 L716.23,2033.83 L718.57,2032.45 L718.57,2032.45 L720.90,2031.08 L720.90,2031.08 L723.24,2029.72 L723.24,2029.72 L725.58,2028.36 L725.58,2028.36 L727.92,2027.00 L727.92,2027.00 L730.26,2025.65 L730.26,2025.65 L732.59,2024.31 L732.59,2024.31 L734.93,2022.97 L734.93,2022.97 L737.27,2021.64 L737.27,2021.64 L739.61,2020.32 L739.61,2020.32 L741.95,2018.99 L741.95,2018.99 L744.28,2017.68 L744.28,2017.68 L746.62,2016.37 L746.62,2016.37 L748.96,2015.06 L748.96,2015.06 L751.30,2013.76 L751.30,2013.76 L753.64,2012.47 L753.64,2012.47 L755.98,2011.18 L755.98,2011.18 L758.31,2009.89 L758.31,2009.89 L760.65,2008.62 L760.65,2008.62 L762.99,2007.34 L762.99,2007.34 L765.33,2006.08 L765.33,2006.08 L767.67,2004.81 L767.67,2004.81 L770.00,2003.56 L770.00,2003.56 L772.34,2002.30 L772.34,2002.30 L774.68,2001.06 L774.68,2001.06 L777.02,1999.82 L777.02,1999.82 L779.36,1998.58 L779.36,1998.58 L781.69,1997.35 L781.69,1997.35 L784.03,1996.13 L784.03,1996.13 L786.37,1994.91 L786.37,1994.91 L788.71,1993.69 L788.71,1993.69 L791.05,1992.48 L791.05,1992.48 L793.39,1991.28 L793.39,1991.28 L795.72,1990.08 L795.72,1990.08 L798.06,1988.89 L798.06,1988.89 L800.40,1987.70 L800.40,1987.70 L803.15,1986.32 L803.15,1986.32 L805.89,1984.95 L805.89,1984.95 L808.64,1983.60 L808.64,1983.60 L811.39,1982.26 L811.39,1982.26 L814.14,1980.92 L814.14,1980.92 L816.88,1979.60 L816.88,1979.60 L819.63,1978.29 L819.63,1978.29 L822.38,1976.99 L822.38,1976.99 L825.12,1975.70 L825.12,1975.70 L827.87,1974.42 L827.87,1974.42 L830.62,1973.15 L830.62,1973.15 L833.37,1971.88 L833.37,1971.88 L836.11,1970.63 L836.11,1970.63 L838.86,1969.39 L838.86,1969.39 L841.61,1968.15 L841.61,1968.15 L844.36,1966.92 L844.36,1966.92 L847.10,1965.70 L847.10,1965.70 L849.85,1964.48 L849.85,1964.48 L852.60,1963.27 L852.60,1963.27 L855.34,1962.07 L855.34,1962.07 L858.09,1960.88 L858.09,1960.88 L860.84,1959.69 L860.84,1959.69 L863.59,1958.50 L863.59,1958.50 L866.33,1957.32 L866.33,1957.32 L869.08,1956.15 L869.08,1956.15 L871.83,1954.98 L871.83,1954.98 L874.58,1953.82 L874.58,1953.82 L877.32,1952.66 L877.32,1952.66 L880.07,1951.50 L880.07,1951.50 L882.82,1950.35 L882.82,1950.35 L885.56,1949.20 L885.56,1949.20 L888.31,1948.05 L888.31,1948.05 L891.06,1946.91 L891.06,1946.91 L893.81,1945.77 L893.81,1945.77 L896.55,1944.63 L896.55,1944.63 L899.30,1943.49 L899.30,1943.49 L902.05,1942.35 L902.05,1942.35 L904.79,1941.21 L904.79,1941.21 L907.54,1940.08 L907.54,1940.08 L910.29,1938.94 L910.29,1938.94 L913.04,1937.81 L913.04,1937.81 L915.78,1936.67 L915.78,1936.67 L918.53,1935.54 L918.53,1935.54 L921.28,1934.40 L921.28,1934.40 L924.02,1933.26 L924.02,1933.26 L926.77,1932.13 L926.77,1932.13 L929.52,1930.98 L929.52,1930.98 L932.27,1929.84 L932.27,1929.84 L935.01,1928.70 L935.01,1928.70 L937.76,1927.55 L937.76,1927.55 L940.51,1926.40 L940.51,1926.40 L943.26,1925.24 L943.26,1925.24 L946.00,1924.09 L946.00,1924.09 L948.75,1922.93 L948.75,1922.93 L951.50,1921.76 L951.50,1921.76 L954.24,1920.59 L954.24,1920.59 L956.99,1919.41 L956.99,1919.41 L959.74,1918.23 L959.74,1918.23 L962.49,1917.05 L962.49,1917.05 L965.23,1915.86 L965.23,1915.86 L967.98,1914.66 L967.98,1914.66 L970.73,1913.46 L970.73,1913.46 L973.48,1912.25 L973.48,1912.25 L976.22,1911.03 L976.22,1911.03 L978.97,1909.80 L978.97,1909.80 L981.72,1908.57 L981.72,1908.57 L984.46,1907.33 L984.46,1907.33 L987.21,1906.08 L987.21,1906.08 L989.96,1904.83 L989.96,1904.83 L992.71,1903.56 L992.71,1903.56 L995.45,1902.28 L995.45,1902.28 L998.20,1901.00 L998.20,1901.00 L1000.61,1899.22 L1000.61,1899.22 L1003.02,1897.43 L1003.02,1897.43 L1005.43,1895.65 L1005.43,1895.65 L1007.83,1893.88 L1007.83,1893.88 L1010.24,1892.10 L1010.24,1892.10 L1012.65,1890.32 L1012.65,1890.32 L1015.06,1888.55 L1015.06,1888.55 L1017.47,1886.77 L1017.47,1886.77 L1019.88,1885.00 L1019.88,1885.00 L1022.28,1883.23 L1022.28,1883.23 L1024.69,1881.46 L1024.69,1881.46 L1027.10,1879.69 L1027.10,1879.69 L1029.51,1877.93 L1029.51,1877.93 L1031.92,1876.16 L1031.92,1876.16 L1034.33,1874.39 L1034.33,1874.39 L1036.73,1872.63 L1036.73,1872.63 L1039.14,1870.86 L1039.14,1870.86 L1041.55,1869.10 L1041.55,1869.10 L1043.96,1867.34 L1043.96,1867.34 L1046.37,1865.58 L1046.37,1865.58 L1048.78,1863.81 L1048.78,1863.81 L1051.18,1862.05 L1051.18,1862.05 L1053.59,1860.29 L1053.59,1860.29 L1056.00,1858.53 L1056.00,1858.53 L1058.41,1856.77 L1058.41,1856.77 L1060.82,1855.02 L1060.82,1855.02 L1063.23,1853.26 L1063.23,1853.26 L1065.64,1851.50 L1065.64,1851.50 L1068.04,1849.74 L1068.04,1849.74 L1070.45,1847.98 L1070.45,1847.98 L1072.86,1846.23 L1072.86,1846.23 L1075.27,1844.47 L1075.27,1844.47 L1077.68,1842.71 L1077.68,1842.71 L1080.09,1840.95 L1080.09,1840.95 L1082.49,1839.20 L1082.49,1839.20 L1084.90,1837.44 L1084.90,1837.44 L1087.31,1835.68 L1087.31,1835.68 L1089.72,1833.92 L1089.72,1833.92 L1092.13,1832.16 L1092.13,1832.16 L1094.54,1830.41 L1094.54,1830.41 L1096.94,1828.65 L1096.94,1828.65 L1099.35,1826.89 L1099.35,1826.89 L1101.76,1825.13 L1101.76,1825.13 L1104.17,1823.37 L1104.17,1823.37 L1106.58,1821.61 L1106.58,1821.61 L1108.99,1819.85 L1108.99,1819.85 L1111.39,1818.09 L1111.39,1818.09 L1113.80,1816.32 L1113.80,1816.32 L1116.21,1814.56 L1116.21,1814.56 L1118.62,1812.80 L1118.62,1812.80 L1121.03,1811.03 L1121.03,1811.03 L1123.44,1809.26 L1123.44,1809.26 L1125.85,1807.50 L1125.85,1807.50 L1128.25,1805.73 L1128.25,1805.73 L1130.66,1803.96 L1130.66,1803.96 L1133.07,1802.19 L1133.07,1802.19 L1135.48,1800.42 L1135.48,1800.42 L1137.89,1798.65 L1137.89,1798.65 L1140.30,1796.88 L1140.30,1796.88 L1142.70,1795.10 L1142.70,1795.10 L1145.11,1793.32 L1145.11,1793.32 L1147.52,1791.55 L1147.52,1791.55 L1149.93,1789.77 L1149.93,1789.77 L1152.34,1787.99 L1152.34,1787.99 L1154.75,1786.21 L1154.75,1786.21 L1157.15,1784.42 L1157.15,1784.42 L1159.56,1782.64 L1159.56,1782.64 L1161.97,1780.85 L1161.97,1780.85 L1164.38,1779.06 L1164.38,1779.06 L1166.79,1777.27 L1166.79,1777.27 L1169.20,1775.48 L1169.20,1775.48 L1171.60,1773.69 L1171.60,1773.69 L1174.01,1771.89 L1174.01,1771.89 L1176.42,1770.09 L1176.42,1770.09 L1178.83,1768.30 L1178.83,1768.30 L1181.24,1766.49 L1181.24,1766.49 L1183.65,1764.69 L1183.65,1764.69 L1186.05,1762.88 L1186.05,1762.88 L1188.46,1761.08 L1188.46,1761.08 L1190.87,1759.27 L1190.87,1759.27 L1193.28,1757.45 L1193.28,1757.45 L1195.69,1755.64 L1195.69,1755.64 L1198.10,1753.82 L1198.10,1753.82 L1200.51,1752.00 L1200.51,1752.00 L1202.91,1750.18 L1202.91,1750.18 L1205.32,1748.35 L1205.32,1748.35 L1207.73,1746.53 L1207.73,1746.53 L1210.14,1744.70 L1210.14,1744.70 L1212.55,1742.86 L1212.55,1742.86 L1214.96,1741.03 L1214.96,1741.03 L1217.36,1739.19 L1217.36,1739.19 L1219.77,1737.35 L1219.77,1737.35 L1222.18,1735.50 L1222.18,1735.50 L1224.59,1733.66 L1224.59,1733.66 L1227.00,1731.81 L1227.00,1731.81 L1229.41,1729.95 L1229.41,1729.95 L1231.81,1728.10 L1231.81,1728.10 L1234.22,1726.24 L1234.22,1726.24 L1236.63,1724.38 L1236.63,1724.38 L1239.04,1722.51 L1239.04,1722.51 L1241.45,1720.64 L1241.45,1720.64 L1243.86,1718.77 L1243.86,1718.77 L1246.26,1716.89 L1246.26,1716.89 L1248.67,1715.01 L1248.67,1715.01 L1251.08,1713.13 L1251.08,1713.13 L1253.49,1711.24 L1253.49,1711.24 L1255.90,1709.35 L1255.90,1709.35 L1258.31,1707.46 L1258.31,1707.46 L1260.72,1705.56 L1260.72,1705.56 L1263.12,1703.66 L1263.12,1703.66 L1265.53,1701.76 L1265.53,1701.76 L1267.94,1699.85 L1267.94,1699.85 L1270.35,1697.94 L1270.35,1697.94 L1272.76,1696.02 L1272.76,1696.02 L1275.17,1694.10 L1275.17,1694.10 L1277.57,1692.18 L1277.57,1692.18 L1279.98,1690.25 L1279.98,1690.25 L1282.39,1688.32 L1282.39,1688.32 L1284.80,1686.38 L1284.80,1686.38 L1287.21,1684.44 L1287.21,1684.44 L1289.62,1682.50 L1289.62,1682.50 L1292.02,1680.55 L1292.02,1680.55 L1294.43,1678.59 L1294.43,1678.59 L1296.84,1676.63 L1296.84,1676.63 L1299.25,1674.67 L1299.25,1674.67 L1301.66,1672.70 L1301.66,1672.70 L1304.07,1670.73 L1304.07,1670.73 L1306.47,1668.76 L1306.47,1668.76 L1308.88,1666.78 L1308.88,1666.78 L1311.29,1664.79 L1311.29,1664.79 L1313.70,1662.80 L1313.70,1672.80 L1311.29,1674.79 L1311.29,1674.79 L1308.88,1676.78 L1308.88,1676.78 L1306.47,1678.76 L1306.47,1678.76 L1304.07,1680.73 L1304.07,1680.73 L1301.66,1682.70 L1301.66,1682.70 L1299.25,1684.67 L1299.25,1684.67 L1296.84,1686.63 L1296.84,1686.63 L1294.43,1688.59 L1294.43,1688.59 L1292.02,1690.55 L1292.02,1690.55 L1289.62,1692.50 L1289.62,1692.50 L1287.21,1694.44 L1287.21,1694.44 L1284.80,1696.38 L1284.80,1696.38 L1282.39,1698.32 L1282.39,1698.32 L1279.98,1700.25 L1279.98,1700.25 L1277.57,1702.18 L1277.57,1702.18 L1275.17,1704.10 L1275.17,1704.10 L1272.76,1706.02 L1272.76,1706.02 L1270.35,1707.94 L1270.35,1707.94 L1267.94,1709.85 L1267.94,1709.85 L1265.53,1711.76 L1265.53,1711.76 L1263.12,1713.66 L1263.12,1713.66 L1260.72,1715.56 L1260.72,1715.56 L1258.31,1717.46 L1258.31,1717.46 L1255.90,1719.35 L1255.90,1719.35 L1253.49,1721.24 L1253.49,1721.24 L1251.08,1723.13 L1251.08,1723.13 L1248.67,1725.01 L1248.67,1725.01 L1246.26,1726.89 L1246.26,1726.89 L1243.86,1728.77 L1243.86,1728.77 L1241.45,1730.64 L1241.45,1730.64 L1239.04,1732.51 L1239.04,1732.51 L1236.63,1734.38 L1236.63,1734.38 L1234.22,1736.24 L1234.22,1736.24 L1231.81,1738.10 L1231.81,1738.10 L1229.41,1739.95 L1229.41,1739.95 L1227.00,1741.81 L1227.00,1741.81 L1224.59,1743.66 L1224.59,1743.66 L1222.18,1745.50 L1222.18,1745.50 L1219.77,1747.35 L1219.77,1747.35 L1217.36,1749.19 L1217.36,1749.19 L1214.96,1751.03 L1214.96,1751.03 L1212.55,1752.86 L1212.55,1752.86 L1210.14,1754.70 L1210.14,1754.70 L1207.73,1756.53 L1207.73,1756.53 L1205.32,1758.35 L1205.32,1758.35 L1202.91,1760.18 L1202.91,1760.18 L1200.51,1762.00 L1200.51,1762.00 L1198.10,1763.82 L1198.10,1763.82 L1195.69,1765.64 L1195.69,1765.64 L1193.28,1767.45 L1193.28,1767.45 L1190.87,1769.27 L1190.87,1769.27 L1188.46,1771.08 L1188.46,1771.08 L1186.05,1772.88 L1186.05,1772.88 L1183.65,1774.69 L1183.65,1774.69 L1181.24,1776.49 L1181.24,1776.49 L1178.83,1778.30 L1178.83,1778.30 L1176.42,1780.09 L1176.42,1780.09 L1174.01,1781.89 L1174.01,1781.89 L1171.60,1783.69 L1171.60,1783.69 L1169.20,1785.48 L1169.20,1785.48 L1166.79,1787.27 L1166.79,1787.27 L1164.38,1789.06 L1164.38,1789.06 L1161.97,1790.85 L1161.97,1790.85 L1159.56,1792.64 L1159.56,1792.64 L1157.15,1794.42 L1157.15,1794.42 L1154.75,1796.21 L1154.75,1796.21 L1152.34,1797.99 L1152.34,1797.99 L1149.93,1799.77 L1149.93,1799.77 L1147.52,1801.55 L1147.52,1801.55 L1145.11,1803.32 L1145.11,1803.32 L1142.70,1805.10 L1142.70,1805.10 L1140.30,1806.88 L1140.30,1806.88 L1137.89,1808.65 L1137.89,1808.65 L1135.48,1810.42 L1135.48,1810.42 L1133.07,1812.19 L1133.07,1812.19 L1130.66,1813.96 L1130.66,1813.96 L1128.25,1815.73 L1128.25,1815.73 L1125.85,1817.50 L1125.85,1817.50 L1123.44,1819.26 L1123.44,1819.26 L1121.03,1821.03 L1121.03,1821.03 L1118.62,1822.80 L1118.62,1822.80 L1116.21,1824.56 L1116.21,1824.56 L1113.80,1826.32 L1113.80,1826.32 L1111.39,1828.09 L1111.39,1828.09 L1108.99,1829.85 L1108.99,1829.85 L1106.58,1831.61 L1106.58,1831.61 L1104.17,1833.37 L1104.17,1833.37 L1101.76,1835.13 L1101.76,1835.13 L1099.35,1836.89 L1099.35,1836.89 L1096.94,1838.65 L1096.94,1838.65 L1094.54,1840.41 L1094.54,1840.41 L1092.13,1842.16 L1092.13,1842.16 L1089.72,1843.92 L1089.72,1843.92 L1087.31,1845.68 L1087.31,1845.68 L1084.90,1847.44 L1084.90,1847.44 L1082.49,1849.20 L1082.49,1849.20 L1080.09,1850.95 L1080.09,1850.95 L1077.68,1852.71 L1077.68,1852.71 L1075.27,1854.47 L1075.27,1854.47 L1072.86,1856.23 L1072.86,1856.23 L1070.45,1857.98 L1070.45,1857.98 L1068.04,1859.74 L1068.04,1859.74 L1065.64,1861.50 L1065.64,1861.50 L1063.23,1863.26 L1063.23,1863.26 L1060.82,1865.02 L1060.82,1865.02 L1058.41,1866.77 L1058.41,1866.77 L1056.00,1868.53 L1056.00,1868.53 L1053.59,1870.29 L1053.59,1870.29 L1051.18,1872.05 L1051.18,1872.05 L1048.78,1873.81 L1048.78,1873.81 L1046.37,1875.58 L1046.37,1875.58 L1043.96,1877.34 L1043.96,1877.34 L1041.55,1879.10 L1041.55,1879.10 L1039.14,1880.86 L1039.14,1880.86 L1036.73,1882.63 L1036.73,1882.63 L1034.33,1884.39 L1034.33,1884.39 L1031.92,1886.16 L1031.92,1886.16 L1029.51,1887.93 L1029.51,1887.93 L1027.10,1889.69 L1027.10,1889.69 L1024.69,1891.46 L1024.69,1891.46 L1022.28,1893.23 L1022.28,1893.23 L1019.88,1895.00 L1019.88,1895.00 L1017.47,1896.77 L1017.47,1896.77 L1015.06,1898.55 L1015.06,1898.55 L1012.65,1900.32 L1012.65,1900.32 L1010.24,1902.10 L1010.24,1902.10 L1007.83,1903.88 L1007.83,1903.88 L1005.43,1905.65 L1005.43,1905.65 L1003.02,1907.43 L1003.02,1907.43 L1000.61,1909.22 L1000.61,1909.22 L998.20,1911.00 L998.20,1911.00 L995.45,1912.28 L995.45,1912.28 L992.71,1913.56 L992.71,1913.56 L989.96,1914.83 L989.96,1914.83 L987.21,1916.08 L987.21,1916.08 L984.46,1917.33 L984.46,1917.33 L981.72,1918.57 L981.72,1918.57 L978.97,1919.80 L978.97,1919.80 L976.22,1921.03 L976.22,1921.03 L973.48,1922.25 L973.48,1922.25 L970.73,1923.46 L970.73,1923.46 L967.98,1924.66 L967.98,1924.66 L965.23,1925.86 L965.23,1925.86 L962.49,1927.05 L962.49,1927.05 L959.74,1928.23 L959.74,1928.23 L956.99,1929.41 L956.99,1929.41 L954.24,1930.59 L954.24,1930.59 L951.50,1931.76 L951.50,1931.76 L948.75,1932.93 L948.75,1932.93 L946.00,1934.09 L946.00,1934.09 L943.26,1935.24 L943.26,1935.24 L940.51,1936.40 L940.51,1936.40 L937.76,1937.55 L937.76,1937.55 L935.01,1938.70 L935.01,1938.70 L932.27,1939.84 L932.27,1939.84 L929.52,1940.98 L929.52,1940.98 L926.77,1942.13 L926.77,1942.13 L924.02,1943.26 L924.02,1943.26 L921.28,1944.40 L921.28,1944.40 L918.53,1945.54 L918.53,1945.54 L915.78,1946.67 L915.78,1946.67 L913.04,1947.81 L913.04,1947.81 L910.29,1948.94 L910.29,1948.94 L907.54,1950.08 L907.54,1950.08 L904.79,1951.21 L904.79,1951.21 L902.05,1952.35 L902.05,1952.35 L899.30,1953.49 L899.30,1953.49 L896.55,1954.63 L896.55,1954.63 L893.81,1955.77 L893.81,1955.77 L891.06,1956.91 L891.06,1956.91 L888.31,1958.05 L888.31,1958.05 L885.56,1959.20 L885.56,1959.20 L882.82,1960.35 L882.82,1960.35 L880.07,1961.50 L880.07,1961.50 L877.32,1962.66 L877.32,1962.66 L874.58,1963.82 L874.58,1963.82 L871.83,1964.98 L871.83,1964.98 L869.08,1966.15 L869.08,1966.15 L866.33,1967.32 L866.33,1967.32 L863.59,1968.50 L863.59,1968.50 L860.84,1969.69 L860.84,1969.69 L858.09,1970.88 L858.09,1970.88 L855.34,1972.07 L855.34,1972.07 L852.60,1973.27 L852.60,1973.27 L849.85,1974.48 L849.85,1974.48 L847.10,1975.70 L847.10,1975.70 L844.36,1976.92 L844.36,1976.92 L841.61,1978.15 L841.61,1978.15 L838.86,1979.39 L838.86,1979.39 L836.11,1980.63 L836.11,1980.63 L833.37,1981.88 L833.37,1981.88 L830.62,1983.15 L830.62,1983.15 L827.87,1984.42 L827.87,1984.42 L825.12,1985.70 L825.12,1985.70 L822.38,1986.99 L822.38,1986.99 L819.63,1988.29 L819.63,1988.29 L816.88,1989.60 L816.88,1989.60 L814.14,1990.92 L814.14,1990.92 L811.39,1992.26 L811.39,1992.26 L808.64,1993.60 L808.64,1993.60 L805.89,1994.95 L805.89,1994.95 L803.15,1996.32 L803.15,1996.32 L800.40,1997.70 L800.40,1997.70 L798.06,1998.89 L798.06,1998.89 L795.72,2000.08 L795.72,2000.08 L793.39,2001.28 L793.39,2001.28 L791.05,2002.48 L791.05,2002.48 L788.71,2003.69 L788.71,2003.69 L786.37,2004.91 L786.37,2004.91 L784.03,2006.13 L784.03,2006.13 L781.69,2007.35 L781.69,2007.35 L779.36,2008.58 L779.36,2008.58 L777.02,2009.82 L777.02,2009.82 L774.68,2011.06 L774.68,2011.06 L772.34,2012.30 L772.34,2012.30 L770.00,2013.56 L770.00,2013.56 L767.67,2014.81 L767.67,2014.81 L765.33,2016.08 L765.33,2016.08 L762.99,2017.34 L762.99,2017.34 L760.65,2018.62 L760.65,2018.62 L758.31,2019.89 L758.31,2019.89 L755.98,2021.18 L755.98,2021.18 L753.64,2022.47 L753.64,2022.47 L751.30,2023.76 L751.30,2023.76 L748.96,2025.06 L748.96,2025.06 L746.62,2026.37 L746.62,2026.37 L744.28,2027.68 L744.28,2027.68 L741.95,2028.99 L741.95,2028.99 L739.61,2030.32 L739.61,2030.32 L737.27,2031.64 L737.27,2031.64 L734.93,2032.97 L734.93,2032.97 L732.59,2034.31 L732.59,2034.31 L730.26,2035.65 L730.26,2035.65 L727.92,2037.00 L727.92,2037.00 L725.58,2038.36 L725.58,2038.36 L723.24,2039.72 L723.24,2039.72 L720.90,2041.08 L720.90,2041.08 L718.57,2042.45 L718.57,2042.45 L716.23,2043.83 L716.23,2043.83 L713.89,2045.21 L713.89,2045.21 L711.55,2046.59 L711.55,2046.59 L709.21,2047.98 L709.21,2047.98 L706.87,2049.38 L706.87,2049.38 L704.54,2050.78 L704.54,2050.78 L702.20,2052.19 L702.20,2052.19 L699.86,2053.60 L699.86,2053.60 L697.52,2055.02 L697.52,2055.02 L695.18,2056.45 L695.18,2056.45 L692.85,2057.88 L692.85,2057.88 L690.51,2059.31 L690.51,2059.31 L688.17,2060.75 L688.17,2060.75 L685.83,2062.20 L685.83,2062.20 L683.49,2063.65 L683.49,2063.65 L681.16,2065.11 L681.16,2065.11 L678.82,2066.57 L678.82,2066.57 L676.48,2068.03 L676.48,2068.03 L674.14,2069.51 L674.14,2069.51 L671.80,2070.99 L671.80,2070.99 L669.46,2072.47 L669.46,2072.47 L667.13,2073.96 L667.13,2073.96 L664.79,2075.45 L664.79,2075.45 L662.45,2076.95 L662.45,2076.95 L660.11,2078.46 L660.11,2078.46 L657.77,2079.97 L657.77,2079.97 L655.44,2081.49 L655.44,2081.49 L653.10,2083.01 L653.10,2083.01 L650.76,2084.54 L650.76,2084.54 L648.42,2086.07 L648.42,2086.07 L646.08,2087.61 L646.08,2087.61 L643.74,2089.15 L643.74,2089.15 L641.41,2090.70 L641.41,2090.70 L639.07,2092.26 L639.07,2092.26 L636.73,2093.82 L636.73,2093.82 L634.39,2095.39 L634.39,2095.39 L632.05,2096.96 L632.05,2096.96 L629.72,2098.53 L629.72,2098.53 L627.38,2100.12 L627.38,2100.12 L625.04,2101.71 L625.04,2101.71 L622.70,2103.30 L622.70,2103.30 L620.36,2104.90 L620.36,2104.90 L618.03,2106.50 L618.03,2106.50 L615.69,2108.11 L615.69,2108.11 L613.35,2109.73 L613.35,2109.73 L611.01,2111.35 L611.01,2111.35 L608.67,2112.98 L608.67,2112.98 L606.33,2114.61 L606.33,2114.61 L604.00,2116.25 L604.00,2116.25 L601.66,2117.89 L601.66,2117.89 L599.32,2119.54 L599.32,2119.54 L596.98,2121.19 L596.98,2121.19 L594.64,2122.85 L594.64,2122.85 L592.31,2124.52 L592.31,2124.52 L589.97,2126.19 L589.97,2126.19 L587.63,2127.87 L587.63,2127.87 L585.29,2129.55 L585.29,2129.55 L582.95,2131.24 L582.95,2131.24 L580.62,2132.93 L580.62,2132.93 L578.28,2134.63 L578.28,2134.63 L575.94,2136.33 L575.94,2136.33 L573.60,2138.04 L573.60,2138.04 L571.26,2139.76 L571.26,2139.76 L568.92,2141.48 L568.92,2141.48 L566.59,2143.21 L566.59,2143.21 L564.25,2144.94 L564.25,2144.94 L561.91,2146.68 L561.91,2146.68 L559.57,2148.42 L559.57,2148.42 L557.23,2150.17 L557.23,2150.17 L554.90,2151.92 L554.90,2151.92 L552.56,2153.68 L552.56,2153.68 L550.22,2155.45 L550.22,2155.45 L547.88,2157.22 L547.88,2157.22 L545.54,2159.00 L545.54,2159.00 L543.21,2160.78 L543.21,2160.78 L540.87,2162.57 L540.87,2162.57 L538.53,2164.36 L538.53,2164.36 L536.19,2166.16 L536.19,2166.16 L533.85,2167.97 L533.85,2167.97 L531.51,2169.78 L531.51,2169.78 L529.18,2171.59 L529.18,2171.59 L526.84,2173.41 L526.84,2173.41 L524.50,2175.24 L524.50,2175.24 L522.16,2177.08 L522.16,2177.08 L519.82,2178.91 L519.82,2178.91 L517.49,2180.76 L517.49,2180.76 L515.15,2182.61 L515.15,2182.61 L512.81,2184.46 L512.81,2184.46 L510.47,2186.32 L510.47,2186.32 L508.13,2188.19 L508.13,2188.19 L505.79,2190.06 L505.79,2190.06 L503.46,2191.94 L503.46,2191.94 L501.12,2193.83 L501.12,2193.83 L498.78,2195.72 L498.78,2195.72 L496.44,2197.61 L496.44,2197.61 L494.10,2199.51 L494.10,2199.51 L491.77,2201.42 L491.77,2201.42 L489.43,2203.33 L489.43,2203.33 L487.09,2205.25 L487.09,2205.25 L484.75,2207.17 L484.75,2207.17 L482.41,2209.10 L482.41,2209.10 L480.08,2211.04 L480.08,2211.04 L477.74,2212.98 L477.74,2212.98 L475.40,2214.92 L475.40,2214.92 L473.06,2216.87 L473.06,2216.87 L470.72,2218.83 L470.72,2218.83 L468.38,2220.79 L468.38,2220.79 L466.05,2222.76 L466.05,2222.76 L463.71,2224.74 L463.71,2224.74 L461.37,2226.72 L461.37,2226.72 L459.03,2228.70 L459.03,2228.70 L456.69,2230.70 L456.69,2230.70 L454.36,2232.69 L454.36,2232.69 L452.02,2234.70 L452.02,2234.70 L449.68,2236.70 L449.68,2236.70 L447.34,2238.72 L447.34,2238.72 L445.00,2240.74 L445.00,2240.74 L442.67,2242.77 L442.67,2242.77 L440.33,2244.80 L440.33,2244.80 L437.99,2246.83 L437.99,2246.83 L435.65,2248.88 L435.65,2248.88 L433.31,2250.93 L433.31,2250.93 L430.97,2252.98 L430.97,2252.98 L428.64,2255.04 L428.64,2255.04 L426.30,2257.11 L426.30,2257.11 L423.96,2259.18 L423.96,2259.18 L421.62,2261.26 L421.62,2261.26 L419.28,2263.34 L419.28,2263.34 L416.95,2265.43 L416.95,2265.43 L414.61,2267.52 L414.61,2267.52 L412.27,2269.62 L412.27,2269.62 L409.93,2271.73 L409.93,2271.73 L407.59,2273.84 L407.59,2273.84 L405.26,2275.96 L405.26,2275.96 L402.92,2278.08 L402.92,2278.08 L400.58,2280.21 L400.58,2280.21 L398.24,2282.35 L398.24,2282.35 L395.90,2284.49 L395.90,2284.49 L393.56,2286.63 L393.56,2286.63 L391.23,2288.79 L391.23,2288.79 L388.89,2290.94 L388.89,2290.94 L386.55,2293.11 L386.55,2293.11 L384.21,2295.28 L384.21,2295.28 L381.87,2297.45 L381.87,2297.45 L379.54,2299.63 L379.54,2299.63 L377.20,2301.82 L377.20,2301.82 L374.86,2304.01 L374.86,2304.01 L372.52,2306.21 L372.52,2306.21 L370.18,2308.42 L370.18,2308.42 L367.84,2310.63 L367.84,2310.63 L365.51,2312.84 L365.51,2312.84 L363.17,2315.07 L363.17,2315.07 L360.83,2317.29 L360.83,2317.29 L358.49,2319.53 L358.49,2319.53 L356.15,2321.77 L356.15,2321.77 L353.82,2324.01 L353.82,2324.01 L351.48,2326.26 L351.48,2326.26 L349.14,2328.52 L349.14,2328.52 L346.80,2330.78 L346.80,2330.78 L344.46,2333.05 L344.46,2333.05 L342.13,2335.32 L342.13,2335.32 L339.79,2337.60 L339.79,2337.60 L337.45,2339.89 L337.45,2339.89 L335.11,2342.18 L335.11,2342.18 L332.77,2344.48 L332.77,2344.48 L330.43,2346.78 L330.43,2346.78 L328.10,2349.09 L328.10,2349.09 L325.76,2351.41 L325.76,2351.41 L323.42,2353.73 L323.42,2353.73 L321.08,2356.05 L321.08,2356.05 L318.74,2358.39 L323.74,2353.39 L321.41,2355.72 L321.41,2355.72 L319.07,2358.07 L319.07,2358.07 L316.73,2360.42 L316.73,2360.42 L314.39,2362.77 L314.39,2362.77 L312.05,2365.14 L312.05,2365.14 L309.72,2367.50 L309.72,2367.50 L307.38,2369.88 L307.38,2369.88 L305.04,2372.26 L305.04,2372.26 L302.70,2374.64 L302.70,2374.64 L300.36,2377.03 L300.36,2377.03 L298.02,2379.43 L298.02,2379.43 L295.69,2381.83 L295.69,2381.83 L293.35,2384.24 L293.35,2384.24 L291.01,2386.66 L291.01,2386.66 L288.67,2389.08 L288.67,2389.08 L286.33,2391.51 L286.33,2391.51 L284.00,2393.94 L284.00,2393.94 L281.66,2396.38 L281.66,2396.38 L279.32,2398.82 L279.32,2398.82 L276.98,2401.27 L276.98,2401.27 L274.64,2403.73 L274.64,2403.73 L272.31,2406.19 L272.31,2406.19 L269.97,2408.66 L269.97,2408.66 L267.63,2411.13 L267.63,2411.13 L265.29,2413.61 L265.29,2413.61 L262.95,2416.10 L262.95,2416.10 L260.61,2418.59 L260.61,2418.59 L258.28,2421.09 L258.28,2421.09 L255.94,2423.59 L255.94,2423.59 L253.60,2426.10Z" fill="#00d400"/>
<path d="M233.85,2407.65 L263.35,2407.65 L263.35,2415.05 L233.85,2415.05Z M267.05,2411.35 L267.05,2440.85 L259.65,2440.85 L259.65,2411.35Z M263.35,2444.55 L233.85,2444.55 L233.85,2437.15 L263.35,2437.15Z M230.15,2440.85 L230.15,2411.35 L237.55,2411.35 L237.55,2440.85Z" fill="#00d400"/>
<path d="M785.65,1974.25 L815.15,1974.25 L815.15,1981.65 L785.65,1981.65Z M818.85,1977.95 L818.85,2007.45 L811.45,2007.45 L811.45,1977.95Z M815.15,2011.15 L785.65,2011.15 L785.65,2003.75 L815.15,2003.75Z M781.95,2007.45 L781.95,1977.95 L789.35,1977.95 L789.35,2007.45Z" fill="#00d400"/>
<path d="M983.45,1887.55 L1012.95,1887.55 L1012.95,1894.95 L983.45,1894.95Z M1016.65,1891.25 L1016.65,1920.75 L1009.25,1920.75 L1009.25,1891.25Z M1012.95,1924.45 L983.45,1924.45 L983.45,1917.05 L1012.95,1917.05Z M979.75,1920.75 L979.75,1891.25 L987.15,1891.25 L987.15,1920.75Z" fill="#00d400"/>
<path d="M1298.95,1649.35 L1328.45,1649.35 L1328.45,1656.75 L1298.95,1656.75Z M1332.15,1653.05 L1332.15,1682.55 L1324.75,1682.55 L1324.75,1653.05Z M1328.45,1686.25 L1298.95,1686.25 L1298.95,1678.85 L1328.45,1678.85Z M1295.25,1682.55 L1295.25,1653.05 L1302.65,1653.05 L1302.65,1682.55Z" fill="#00d400"/>
<path d="M248.60,2421.10 L251.54,2420.75 L251.54,2420.75 L254.47,2420.39 L254.47,2420.39 L257.41,2420.04 L257.41,2420.04 L260.35,2419.68 L260.35,2419.68 L263.28,2419.33 L263.28,2419.33 L266.22,2418.97 L266.22,2418.97 L269.16,2418.62 L269.16,2418.62 L272.09,2418.26 L272.09,2418.26 L275.03,2417.91 L275.03,2417.91 L277.97,2417.55 L277.97,2417.55 L280.90,2417.20 L280.90,2417.20 L283.84,2416.84 L283.84,2416.84 L286.78,2416.49 L286.78,2416.49 L289.71,2416.13 L289.71,2416.13 L292.65,2415.77 L292.65,2415.77 L295.59,2415.41 L295.59,2415.41 L298.52,2415.05 L298.52,2415.05 L301.46,2414.70 L301.46,2414.70 L304.40,2414.34 L304.40,2414.34 L307.33,2413.98 L307.33,2413.98 L310.27,2413.61 L310.27,2413.61 L313.21,2413.25 L313.21,2413.25 L316.14,2412.89 L316.14,2412.89 L319.08,2412.53 L319.08,2412.53 L322.02,2412.16 L322.02,2412.16 L324.95,2411.80 L324.95,2411.80 L327.89,2411.43 L327.89,2411.43 L330.83,2411.06 L330.83,2411.06 L333.76,2410.70 L333.76,2410.70 L336.70,2410.33 L336.70,2410.33 L339.64,2409.96 L339.64,2409.96 L342.57,2409.59 L342.57,2409.59 L345.51,2409.21 L345.51,2409.21 L348.45,2408.84 L348.45,2408.84 L351.38,2408.46 L351.38,2408.46 L354.32,2408.09 L354.32,2408.09 L357.26,2407.71 L357.26,2407.71 L360.19,2407.33 L360.19,2407.33 L363.13,2406.95 L363.13,2406.95 L366.07,2406.57 L366.07,2406.57 L369.00,2406.19 L369.00,2406.19 L371.94,2405.80 L371.94,2405.80 L374.88,2405.41 L374.88,2405.41 L377.81,2405.03 L377.81,2405.03 L380.75,2404.64 L380.75,2404.64 L383.69,2404.24 L383.69,2404.24 L386.62,2403.85 L386.62,2403.85 L389.56,2403.46 L389.56,2403.46 L392.50,2403.06 L392.50,2403.06 L395.44,2402.66 L395.44,2402.66 L398.37,2402.26 L398.37,2402.26 L401.31,2401.86 L401.31,2401.86 L404.25,2401.45 L404.25,2401.45 L407.18,2401.05 L407.18,2401.05 L410.12,2400.64 L410.12,2400.64 L413.06,2400.23 L413.06,2400.23 L415.99,2399.81 L415.99,2399.81 L418.93,2399.40 L418.93,2399.40 L421.87,2398.98 L421.87,2398.98 L424.80,2398.56 L424.80,2398.56 L427.74,2398.14 L427.74,2398.14 L430.68,2397.72 L430.68,2397.72 L433.61,2397.29 L433.61,2397.29 L436.55,2396.86 L436.55,2396.86 L439.49,2396.43 L439.49,2396.43 L442.42,2396.00 L442.42,2396.00 L445.36,2395.56 L445.36,2395.56 L448.30,2395.12 L448.30,2395.12 L451.23,2394.68 L451.23,2394.68 L454.17,2394.24 L454.17,2394.24 L457.11,2393.79 L457.11,2393.79 L460.04,2393.34 L460.04,2393.34 L462.98,2392.89 L462.98,2392.89 L465.92,2392.43 L465.92,2392.43 L468.85,2391.98 L468.85,2391.98 L471.79,2391.51 L471.79,2391.51 L474.73,2391.05 L474.73,2391.05 L477.66,2390.58 L477.66,2390.58 L480.60,2390.12 L480.60,2390.12 L483.54,2389.64 L483.54,2389.64 L486.47,2389.17 L486.47,2389.17 L489.41,2388.69 L489.41,2388.69 L492.35,2388.21 L492.35,2388.21 L495.28,2387.72 L495.28,2387.72 L498.22,2387.23 L498.22,2387.23 L501.16,2386.74 L501.16,2386.74 L504.09,2386.25 L504.09,2386.25 L507.03,2385.75 L507.03,2385.75 L509.97,2385.25 L509.97,2385.25 L512.90,2384.74 L512.90,2384.74 L515.84,2384.23 L515.84,2384.23 L518.78,2383.72 L518.78,2383.72 L521.71,2383.20 L521.71,2383.20 L524.65,2382.68 L524.65,2382.68 L527.59,2382.16 L527.59,2382.16 L530.52,2381.64 L530.52,2381.64 L533.46,2381.11 L533.46,2381.11 L536.40,2380.57 L536.40,2380.57 L539.33,2380.03 L539.33,2380.03 L542.27,2379.49 L542.27,2379.49 L545.21,2378.95 L545.21,2378.95 L548.14,2378.40 L548.14,2378.40 L551.08,2377.84 L551.08,2377.84 L554.02,2377.29 L554.02,2377.29 L556.95,2376.72 L556.95,2376.72 L559.89,2376.16 L559.89,2376.16 L562.83,2375.59 L562.83,2375.59 L565.76,2375.02 L565.76,2375.02 L568.70,2374.44 L568.70,2374.44 L571.64,2373.86 L571.64,2373.86 L574.57,2373.27 L574.57,2373.27 L577.51,2372.68 L577.51,2372.68 L580.45,2372.08 L580.45,2372.08 L583.38,2371.48 L583.38,2371.48 L586.32,2370.88 L586.32,2370.88 L589.26,2370.27 L589.26,2370.27 L592.19,2369.66 L592.19,2369.66 L595.13,2369.04 L595.13,2369.04 L598.07,2368.42 L598.07,2368.42 L601.00,2367.79 L601.00,2367.79 L603.94,2367.16 L603.94,2367.16 L606.88,2366.53 L606.88,2366.53 L609.81,2365.89 L609.81,2365.89 L612.75,2365.24 L612.75,2365.24 L615.69,2364.59 L615.69,2364.59 L618.62,2363.94 L618.62,2363.94 L621.56,2363.28 L621.56,2363.28 L624.50,2362.61 L624.50,2362.61 L627.43,2361.94 L627.43,2361.94 L630.37,2361.27 L630.37,2361.27 L633.31,2360.59 L633.31,2360.59 L636.24,2359.90 L636.24,2359.90 L639.18,2359.21 L639.18,2359.21 L642.12,2358.52 L642.12,2358.52 L645.05,2357.82 L645.05,2357.82 L647.99,2357.11 L647.99,2357.11 L650.93,2356.40 L650.93,2356.40 L653.86,2355.68 L653.86,2355.68 L656.80,2354.96 L656.80,2354.96 L659.74,2354.23 L659.74,2354.23 L662.68,2353.50 L662.68,2353.50 L665.61,2352.76 L665.61,2352.76 L668.55,2352.02 L668.55,2352.02 L671.49,2351.27 L671.49,2351.27 L674.42,2350.52 L674.42,2350.52 L677.36,2349.76 L677.36,2349.76 L680.30,2348.99 L680.30,2348.99 L683.23,2348.22 L683.23,2348.22 L686.17,2347.44 L686.17,2347.44 L689.11,2346.66 L689.11,2346.66 L692.04,2345.87 L692.04,2345.87 L694.98,2345.07 L694.98,2345.07 L697.92,2344.27 L697.92,2344.27 L700.85,2343.46 L700.85,2343.46 L703.79,2342.65 L703.79,2342.65 L706.73,2341.83 L706.73,2341.83 L709.66,2341.01 L709.66,2341.01 L712.60,2340.18 L712.60,2340.18 L715.54,2339.34 L715.54,2339.34 L718.47,2338.50 L718.47,2338.50 L721.41,2337.65 L721.41,2337.65 L724.35,2336.79 L724.35,2336.79 L727.28,2335.93 L727.28,2335.93 L730.22,2335.06 L730.22,2335.06 L733.16,2334.18 L733.16,2334.18 L736.09,2333.30 L736.09,2333.30 L739.03,2332.41 L739.03,2332.41 L741.97,2331.52 L741.97,2331.52 L744.90,2330.62 L744.90,2330.62 L747.84,2329.71 L747.84,2329.71 L750.78,2328.80 L750.78,2328.80 L753.71,2327.88 L753.71,2327.88 L756.65,2326.95 L756.65,2326.95 L759.59,2326.01 L759.59,2326.01 L762.52,2325.07 L762.52,2325.07 L765.46,2324.12 L765.46,2324.12 L768.40,2323.17 L768.40,2323.17 L771.33,2322.21 L771.33,2322.21 L774.27,2321.24 L774.27,2321.24 L777.21,2320.26 L777.21,2320.26 L780.14,2319.28 L780.14,2319.28 L783.08,2318.29 L783.08,2318.29 L786.02,2317.29 L786.02,2317.29 L788.95,2316.29 L788.95,2316.29 L791.89,2315.28 L791.89,2315.28 L794.83,2314.26 L794.83,2314.26 L797.76,2313.23 L797.76,2313.23 L800.70,2312.20 L800.70,2312.20 L803.48,2311.28 L803.48,2311.28 L806.26,2310.35 L806.26,2310.35 L809.04,2309.40 L809.04,2309.40 L811.82,2308.44 L811.82,2308.44 L814.59,2307.47 L814.59,2307.47 L817.37,2306.49 L817.37,2306.49 L820.15,2305.50 L820.15,2305.50 L822.93,2304.49 L822.93,2304.49 L825.71,2303.47 L825.71,2303.47 L828.49,2302.44 L828.49,2302.44 L831.27,2301.40 L831.27,2301.40 L834.05,2300.35 L834.05,2300.35 L836.83,2299.29 L836.83,2299.29 L839.60,2298.22 L839.60,2298.22 L842.38,2297.14 L842.38,2297.14 L845.16,2296.04 L845.16,2296.04 L847.94,2294.94 L847.94,2294.94 L850.72,2293.83 L850.72,2293.83 L853.50,2292.71 L853.50,2292.71 L856.28,2291.57 L856.28,2291.57 L859.06,2290.43 L859.06,2290.43 L861.84,2289.28 L861.84,2289.28 L864.61,2288.12 L864.61,2288.12 L867.39,2286.95 L867.39,2286.95 L870.17,2285.78 L870.17,2285.78 L872.95,2284.59 L872.95,2284.59 L875.73,2283.40 L875.73,2283.40 L878.51,2282.20 L878.51,2282.20 L881.29,2280.99 L881.29,2280.99 L884.07,2279.77 L884.07,2279.77 L886.85,2278.55 L886.85,2278.55 L889.62,2277.32 L889.62,2277.32 L892.40,2276.08 L892.40,2276.08 L895.18,2274.83 L895.18,2274.83 L897.96,2273.58 L897.96,2273.58 L900.74,2272.32 L900.74,2272.32 L903.52,2271.05 L903.52,2271.05 L906.30,2269.78 L906.30,2269.78 L909.08,2268.50 L909.08,2268.50 L911.85,2267.22 L911.85,2267.22 L914.63,2265.93 L914.63,2265.93 L917.41,2264.63 L917.41,2264.63 L920.19,2263.33 L920.19,2263.33 L922.97,2262.03 L922.97,2262.03 L925.75,2260.72 L925.75,2260.72 L928.53,2259.40 L928.53,2259.40 L931.31,2258.08 L931.31,2258.08 L934.09,2256.76 L934.09,2256.76 L936.86,2255.43 L936.86,2255.43 L939.64,2254.10 L939.64,2254.10 L942.42,2252.76 L942.42,2252.76 L945.20,2251.42 L945.20,2251.42 L947.98,2250.08 L947.98,2250.08 L950.76,2248.73 L950.76,2248.73 L953.54,2247.38 L953.54,2247.38 L956.32,2246.03 L956.32,2246.03 L959.10,2244.67 L959.10,2244.67 L961.87,2243.31 L961.87,2243.31 L964.65,2241.95 L964.65,2241.95 L967.43,2240.59 L967.43,2240.59 L970.21,2239.22 L970.21,2239.22 L972.99,2237.86 L972.99,2237.86 L975.77,2236.49 L975.77,2236.49 L978.55,2235.12 L978.55,2235.12 L981.33,2233.75 L981.33,2233.75 L984.11,2232.37 L984.11,2232.37 L986.88,2231.00 L986.88,2231.00 L989.66,2229.63 L989.66,2229.63 L992.44,2228.25 L992.44,2228.25 L995.22,2226.88 L995.22,2226.88 L998.00,2225.50 L998.00,2225.50 L1000.38,2224.28 L1000.38,2224.28 L1002.75,2223.05 L1002.75,2223.05 L1005.13,2221.82 L1005.13,2221.82 L1007.51,2220.59 L1007.51,2220.59 L1009.89,2219.35 L1009.89,2219.35 L1012.26,2218.10 L1012.26,2218.10 L1014.64,2216.86 L1014.64,2216.86 L1017.02,2215.60 L1017.02,2215.60 L1019.40,2214.35 L1019.40,2214.35 L1021.77,2213.08 L1021.77,2213.08 L1024.15,2211.82 L1024.15,2211.82 L1026.53,2210.54 L1026.53,2210.54 L1028.91,2209.27 L1028.91,2209.27 L1031.28,2207.98 L1031.28,2207.98 L1033.66,2206.70 L1033.66,2206.70 L1036.04,2205.40 L1036.04,2205.40 L1038.42,2204.10 L1038.42,2204.10 L1040.79,2202.80 L1040.79,2202.80 L1043.17,2201.49 L1043.17,2201.49 L1045.55,2200.17 L1045.55,2200.17 L1047.93,2198.85 L1047.93,2198.85 L1050.30,2197.52 L1050.30,2197.52 L1052.68,2196.18 L1052.68,2196.18 L1055.06,2194.84 L1055.06,2194.84 L1057.44,2193.49 L1057.44,2193.49 L1059.81,2192.14 L1059.81,2192.14 L1062.19,2190.78 L1062.19,2190.78 L1064.57,2189.41 L1064.57,2189.41 L1066.95,2188.03 L1066.95,2188.03 L1069.32,2186.65 L1069.32,2186.65 L1071.70,2185.26 L1071.70,2185.26 L1074.08,2183.87 L1074.08,2183.87 L1076.46,2182.46 L1076.46,2182.46 L1078.83,2181.05 L1078.83,2181.05 L1081.21,2179.64 L1081.21,2179.64 L1083.59,2178.21 L1083.59,2178.21 L1085.97,2176.78 L1085.97,2176.78 L1088.34,2175.34 L1088.34,2175.34 L1090.72,2173.89 L1090.72,2173.89 L1093.10,2172.43 L1093.10,2172.43 L1095.48,2170.97 L1095.48,2170.97 L1097.85,2169.49 L1097.85,2169.49 L1100.23,2168.01 L1100.23,2168.01 L1102.61,2166.52 L1102.61,2166.52 L1104.98,2165.02 L1104.98,2165.02 L1107.36,2163.52 L1107.36,2163.52 L1109.74,2162.00 L1109.74,2162.00 L1112.12,2160.48 L1112.12,2160.48 L1114.49,2158.95 L1114.49,2158.95 L1116.87,2157.40 L1116.87,2157.40 L1119.25,2155.85 L1119.25,2155.85 L1121.63,2154.29 L1121.63,2154.29 L1124.00,2152.72 L1124.00,2152.72 L1126.38,2151.15 L1126.38,2151.15 L1128.76,2149.56 L1128.76,2149.56 L1131.14,2147.96 L1131.14,2147.96 L1133.51,2146.35 L1133.51,2146.35 L1135.89,2144.73 L1135.89,2144.73 L1138.27,2143.11 L1138.27,2143.11 L1140.65,2141.47 L1140.65,2141.47 L1143.02,2139.82 L1143.02,2139.82 L1145.40,2138.17 L1145.40,2138.17 L1147.78,2136.50 L1147.78,2136.50 L1150.16,2134.82 L1150.16,2134.82 L1152.53,2133.13 L1152.53,2133.13 L1154.91,2131.43 L1154.91,2131.43 L1157.29,2129.72 L1157.29,2129.72 L1159.67,2128.00 L1159.67,2128.00 L1162.04,2126.27 L1162.04,2126.27 L1164.42,2124.53 L1164.42,2124.53 L1166.80,2122.77 L1166.80,2122.77 L1169.18,2121.01 L1169.18,2121.01 L1171.55,2119.23 L1171.55,2119.23 L1173.93,2117.45 L1173.93,2117.45 L1176.31,2115.65 L1176.31,2115.65 L1178.69,2113.84 L1178.69,2113.84 L1181.06,2112.01 L1181.06,2112.01 L1183.44,2110.18 L1183.44,2110.18 L1185.82,2108.33 L1185.82,2108.33 L1188.20,2106.47 L1188.20,2106.47 L1190.57,2104.60 L1190.57,2104.60 L1192.95,2102.72 L1192.95,2102.72 L1195.33,2100.83 L1195.33,2100.83 L1197.71,2098.92 L1197.71,2098.92 L1200.08,2097.00 L1200.08,2097.00 L1202.46,2095.07 L1202.46,2095.07 L1204.84,2093.12 L1204.84,2093.12 L1207.22,2091.16 L1207.22,2091.16 L1209.59,2089.19 L1209.59,2089.19 L1211.97,2087.21 L1211.97,2087.21 L1214.35,2085.21 L1214.35,2085.21 L1216.72,2083.20 L1216.72,2083.20 L1219.10,2081.18 L1219.10,2081.18 L1221.48,2079.14 L1221.48,2079.14 L1223.86,2077.09 L1223.86,2077.09 L1226.23,2075.02 L1226.23,2075.02 L1228.61,2072.94 L1228.61,2072.94 L1230.99,2070.85 L1230.99,2070.85 L1233.37,2068.75 L1233.37,2068.75 L1235.74,2066.63 L1235.74,2066.63 L1238.12,2064.49 L1238.12,2064.49 L1240.50,2062.34 L1240.50,2062.34 L1242.88,2060.18 L1242.88,2060.18 L1245.25,2058.00 L1245.25,2058.00 L1247.63,2055.81 L1247.63,2055.81 L1250.01,2053.60 L1250.01,2053.60 L1252.39,2051.38 L1252.39,2051.38 L1254.76,2049.15 L1254.76,2049.15 L1257.14,2046.89 L1257.14,2046.89 L1259.52,2044.63 L1259.52,2044.63 L1261.90,2042.35 L1261.90,2042.35 L1264.27,2040.05 L1264.27,2040.05 L1266.65,2037.74 L1266.65,2037.74 L1269.03,2035.41 L1269.03,2035.41 L1271.41,2033.07 L1271.41,2033.07 L1273.78,2030.71 L1273.78,2030.71 L1276.16,2028.33 L1271.16,2033.33 L1273.54,2030.94 L1273.54,2030.94 L1275.92,2028.53 L1275.92,2028.53 L1278.29,2026.11 L1278.29,2026.11 L1280.67,2023.67 L1280.67,2023.67 L1283.05,2021.22 L1283.05,2021.22 L1285.43,2018.74 L1285.43,2018.74 L1287.80,2016.26 L1287.80,2016.26 L1290.18,2013.75 L1290.18,2013.75 L1292.56,2011.23 L1292.56,2011.23 L1294.94,2008.69 L1294.94,2008.69 L1297.31,2006.13 L1297.31,2006.13 L1299.69,2003.56 L1299.69,2003.56 L1302.07,2000.97 L1302.07,2000.97 L1304.45,1998.37 L1304.45,1998.37 L1306.82,1995.74 L1306.82,1995.74 L1309.20,1993.10 L1319.20,1993.10 L1316.82,1995.74 L1316.82,1995.74 L1314.45,1998.37 L1314.45,1998.37 L1312.07,2000.97 L1312.07,2000.97 L1309.69,2003.56 L1309.69,2003.56 L1307.31,2006.13 L1307.31,2006.13 L1304.94,2008.69 L1304.94,2008.69 L1302.56,2011.23 L1302.56,2011.23 L1300.18,2013.75 L1300.18,2013.75 L1297.80,2016.26 L1297.80,2016.26 L1295.43,2018.74 L1295.43,2018.74 L1293.05,2021.22 L1293.05,2021.22 L1290.67,2023.67 L1290.67,2023.67 L1288.29,2026.11 L1288.29,2026.11 L1285.92,2028.53 L1285.92,2028.53 L1283.54,2030.94 L1283.54,2030.94 L1281.16,2033.33 L1276.16,2038.33 L1273.78,2040.71 L1273.78,2040.71 L1271.41,2043.07 L1271.41,2043.07 L1269.03,2045.41 L1269.03,2045.41 L1266.65,2047.74 L1266.65,2047.74 L1264.27,2050.05 L1264.27,2050.05 L1261.90,2052.35 L1261.90,2052.35 L1259.52,2054.63 L1259.52,2054.63 L1257.14,2056.89 L1257.14,2056.89 L1254.76,2059.15 L1254.76,2059.15 L1252.39,2061.38 L1252.39,2061.38 L1250.01,2063.60 L1250.01,2063.60 L1247.63,2065.81 L1247.63,2065.81 L1245.25,2068.00 L1245.25,2068.00 L1242.88,2070.18 L1242.88,2070.18 L1240.50,2072.34 L1240.50,2072.34 L1238.12,2074.49 L1238.12,2074.49 L1235.74,2076.63 L1235.74,2076.63 L1233.37,2078.75 L1233.37,2078.75 L1230.99,2080.85 L1230.99,2080.85 L1228.61,2082.94 L1228.61,2082.94 L1226.23,2085.02 L1226.23,2085.02 L1223.86,2087.09 L1223.86,2087.09 L1221.48,2089.14 L1221.48,2089.14 L1219.10,2091.18 L1219.10,2091.18 L1216.72,2093.20 L1216.72,2093.20 L1214.35,2095.21 L1214.35,2095.21 L1211.97,2097.21 L1211.97,2097.21 L1209.59,2099.19 L1209.59,2099.19 L1207.22,2101.16 L1207.22,2101.16 L1204.84,2103.12 L1204.84,2103.12 L1202.46,2105.07 L1202.46,2105.07 L1200.08,2107.00 L1200.08,2107.00 L1197.71,2108.92 L1197.71,2108.92 L1195.33,2110.83 L1195.33,2110.83 L1192.95,2112.72 L1192.95,2112.72 L1190.57,2114.60 L1190.57,2114.60 L1188.20,2116.47 L1188.20,2116.47 L1185.82,2118.33 L1185.82,2118.33 L1183.44,2120.18 L1183.44,2120.18 L1181.06,2122.01 L1181.06,2122.01 L1178.69,2123.84 L1178.69,2123.84 L1176.31,2125.65 L1176.31,2125.65 L1173.93,2127.45 L1173.93,2127.45 L1171.55,2129.23 L1171.55,2129.23 L1169.18,2131.01 L1169.18,2131.01 L1166.80,2132.77 L1166.80,2132.77 L1164.42,2134.53 L1164.42,2134.53 L1162.04,2136.27 L1162.04,2136.27 L1159.67,2138.00 L1159.67,2138.00 L1157.29,2139.72 L1157.29,2139.72 L1154.91,2141.43 L1154.91,2141.43 L1152.53,2143.13 L1152.53,2143.13 L1150.16,2144.82 L1150.16,2144.82 L1147.78,2146.50 L1147.78,2146.50 L1145.40,2148.17 L1145.40,2148.17 L1143.02,2149.82 L1143.02,2149.82 L1140.65,2151.47 L1140.65,2151.47 L1138.27,2153.11 L1138.27,2153.11 L1135.89,2154.73 L1135.89,2154.73 L1133.51,2156.35 L1133.51,2156.35 L1131.14,2157.96 L1131.14,2157.96 L1128.76,2159.56 L1128.76,2159.56 L1126.38,2161.15 L1126.38,2161.15 L1124.00,2162.72 L1124.00,2162.72 L1121.63,2164.29 L1121.63,2164.29 L1119.25,2165.85 L1119.25,2165.85 L1116.87,2167.40 L1116.87,2167.40 L1114.49,2168.95 L1114.49,2168.95 L1112.12,2170.48 L1112.12,2170.48 L1109.74,2172.00 L1109.74,2172.00 L1107.36,2173.52 L1107.36,2173.52 L1104.98,2175.02 L1104.98,2175.02 L1102.61,2176.52 L1102.61,2176.52 L1100.23,2178.01 L1100.23,2178.01 L1097.85,2179.49 L1097.85,2179.49 L1095.48,2180.97 L1095.48,2180.97 L1093.10,2182.43 L1093.10,2182.43 L1090.72,2183.89 L1090.72,2183.89 L1088.34,2185.34 L1088.34,2185.34 L1085.97,2186.78 L1085.97,2186.78 L1083.59,2188.21 L1083.59,2188.21 L1081.21,2189.64 L1081.21,2189.64 L1078.83,2191.05 L1078.83,2191.05 L1076.46,2192.46 L1076.46,2192.46 L1074.08,2193.87 L1074.08,2193.87 L1071.70,2195.26 L1071.70,2195.26 L1069.32,2196.65 L1069.32,2196.65 L1066.95,2198.03 L1066.95,2198.03 L1064.57,2199.41 L1064.57,2199.41 L1062.19,2200.78 L1062.19,2200.78 L1059.81,2202.14 L1059.81,2202.14 L1057.44,2203.49 L1057.44,2203.49 L1055.06,2204.84 L1055.06,2204.84 L1052.68,2206.18 L1052.68,2206.18 L1050.30,2207.52 L1050.30,2207.52 L1047.93,2208.85 L1047.93,2208.85 L1045.55,2210.17 L1045.55,2210.17 L1043.17,2211.49 L1043.17,2211.49 L1040.79,2212.80 L1040.79,2212.80 L1038.42,2214.10 L1038.42,2214.10 L1036.04,2215.40 L1036.04,2215.40 L1033.66,2216.70 L1033.66,2216.70 L1031.28,2217.98 L1031.28,2217.98 L1028.91,2219.27 L1028.91,2219.27 L1026.53,2220.54 L1026.53,2220.54 L1024.15,2221.82 L1024.15,2221.82 L1021.77,2223.08 L1021.77,2223.08 L1019.40,2224.35 L1019.40,2224.35 L1017.02,2225.60 L1017.02,2225.60 L1014.64,2226.86 L1014.64,2226.86 L1012.26,2228.10 L1012.26,2228.10 L1009.89,2229.35 L1009.89,2229.35 L1007.51,2230.59 L1007.51,2230.59 L1005.13,2231.82 L1005.13,2231.82 L1002.75,2233.05 L1002.75,2233.05 L1000.38,2234.28 L1000.38,2234.28 L998.00,2235.50 L998.00,2235.50 L995.22,2236.88 L995.22,2236.88 L992.44,2238.25 L992.44,2238.25 L989.66,2239.63 L989.66,2239.63 L986.88,2241.00 L986.88,2241.00 L984.11,2242.37 L984.11,2242.37 L981.33,2243.75 L981.33,2243.75 L978.55,2245.12 L978.55,2245.12 L975.77,2246.49 L975.77,2246.49 L972.99,2247.86 L972.99,2247.86 L970.21,2249.22 L970.21,2249.22 L967.43,2250.59 L967.43,2250.59 L964.65,2251.95 L964.65,2251.95 L961.87,2253.31 L961.87,2253.31 L959.10,2254.67 L959.10,2254.67 L956.32,2256.03 L956.32,2256.03 L953.54,2257.38 L953.54,2257.38 L950.76,2258.73 L950.76,2258.73 L947.98,2260.08 L947.98,2260.08 L945.20,2261.42 L945.20,2261.42 L942.42,2262.76 L942.42,2262.76 L939.64,2264.10 L939.64,2264.10 L936.86,2265.43 L936.86,2265.43 L934.09,2266.76 L934.09,2266.76 L931.31,2268.08 L931.31,2268.08 L928.53,2269.40 L928.53,2269.40 L925.75,2270.72 L925.75,2270.72 L922.97,2272.03 L922.97,2272.03 L920.19,2273.33 L920.19,2273.33 L917.41,2274.63 L917.41,2274.63 L914.63,2275.93 L914.63,2275.93 L911.85,2277.22 L911.85,2277.22 L909.08,2278.50 L909.08,2278.50 L906.30,2279.78 L906.30,2279.78 L903.52,2281.05 L903.52,2281.05 L900.74,2282.32 L900.74,2282.32 L897.96,2283.58 L897.96,2283.58 L895.18,2284.83 L895.18,2284.83 L892.40,2286.08 L892.40,2286.08 L889.62,2287.32 L889.62,2287.32 L886.85,2288.55 L886.85,2288.55 L884.07,2289.77 L884.07,2289.77 L881.29,2290.99 L881.29,2290.99 L878.51,2292.20 L878.51,2292.20 L875.73,2293.40 L875.73,2293.40 L872.95,2294.59 L872.95,2294.59 L870.17,2295.78 L870.17,2295.78 L867.39,2296.95 L867.39,2296.95 L864.61,2298.12 L864.61,2298.12 L861.84,2299.28 L861.84,2299.28 L859.06,2300.43 L859.06,2300.43 L856.28,2301.57 L856.28,2301.57 L853.50,2302.71 L853.50,2302.71 L850.72,2303.83 L850.72,2303.83 L847.94,2304.94 L847.94,2304.94 L845.16,2306.04 L845.16,2306.04 L842.38,2307.14 L842.38,2307.14 L839.60,2308.22 L839.60,2308.22 L836.83,2309.29 L836.83,2309.29 L834.05,2310.35 L834.05,2310.35 L831.27,2311.40 L831.27,2311.40 L828.49,2312.44 L828.49,2312.44 L825.71,2313.47 L825.71,2313.47 L822.93,2314.49 L822.93,2314.49 L820.15,2315.50 L820.15,2315.50 L817.37,2316.49 L817.37,2316.49 L814.59,2317.47 L814.59,2317.47 L811.82,2318.44 L811.82,2318.44 L809.04,2319.40 L809.04,2319.40 L806.26,2320.35 L806.26,2320.35 L803.48,2321.28 L803.48,2321.28 L800.70,2322.20 L800.70,2322.20 L797.76,2323.23 L797.76,2323.23 L794.83,2324.26 L794.83,2324.26 L791.89,2325.28 L791.89,2325.28 L788.95,2326.29 L788.95,2326.29 L786.02,2327.29 L786.02,2327.29 L783.08,2328.29 L783.08,2328.29 L780.14,2329.28 L780.14,2329.28 L777.21,2330.26 L777.21,2330.26 L774.27,2331.24 L774.27,2331.24 L771.33,2332.21 L771.33,2332.21 L768.40,2333.17 L768.40,2333.17 L765.46,2334.12 L765.46,2334.12 L762.52,2335.07 L762.52,2335.07 L759.59,2336.01 L759.59,2336.01 L756.65,2336.95 L756.65,2336.95 L753.71,2337.88 L753.71,2337.88 L750.78,2338.80 L750.78,2338.80 L747.84,2339.71 L747.84,2339.71 L744.90,2340.62 L744.90,2340.62 L741.97,2341.52 L741.97,2341.52 L739.03,2342.41 L739.03,2342.41 L736.09,2343.30 L736.09,2343.30 L733.16,2344.18 L733.16,2344.18 L730.22,2345.06 L730.22,2345.06 L727.28,2345.93 L727.28,2345.93 L724.35,2346.79 L724.35,2346.79 L721.41,2347.65 L721.41,2347.65 L718.47,2348.50 L718.47,2348.50 L715.54,2349.34 L715.54,2349.34 L712.60,2350.18 L712.60,2350.18 L709.66,2351.01 L709.66,2351.01 L706.73,2351.83 L706.73,2351.83 L703.79,2352.65 L703.79,2352.65 L700.85,2353.46 L700.85,2353.46 L697.92,2354.27 L697.92,2354.27 L694.98,2355.07 L694.98,2355.07 L692.04,2355.87 L692.04,2355.87 L689.11,2356.66 L689.11,2356.66 L686.17,2357.44 L686.17,2357.44 L683.23,2358.22 L683.23,2358.22 L680.30,2358.99 L680.30,2358.99 L677.36,2359.76 L677.36,2359.76 L674.42,2360.52 L674.42,2360.52 L671.49,2361.27 L671.49,2361.27 L668.55,2362.02 L668.55,2362.02 L665.61,2362.76 L665.61,2362.76 L662.68,2363.50 L662.68,2363.50 L659.74,2364.23 L659.74,2364.23 L656.80,2364.96 L656.80,2364.96 L653.86,2365.68 L653.86,2365.68 L650.93,2366.40 L650.93,2366.40 L647.99,2367.11 L647.99,2367.11 L645.05,2367.82 L645.05,2367.82 L642.12,2368.52 L642.12,2368.52 L639.18,2369.21 L639.18,2369.21 L636.24,2369.90 L636.24,2369.90 L633.31,2370.59 L633.31,2370.59 L630.37,2371.27 L630.37,2371.27 L627.43,2371.94 L627.43,2371.94 L624.50,2372.61 L624.50,2372.61 L621.56,2373.28 L621.56,2373.28 L618.62,2373.94 L618.62,2373.94 L615.69,2374.59 L615.69,2374.59 L612.75,2375.24 L612.75,2375.24 L609.81,2375.89 L609.81,2375.89 L606.88,2376.53 L606.88,2376.53 L603.94,2377.16 L603.94,2377.16 L601.00,2377.79 L601.00,2377.79 L598.07,2378.42 L598.07,2378.42 L595.13,2379.04 L595.13,2379.04 L592.19,2379.66 L592.19,2379.66 L589.26,2380.27 L589.26,2380.27 L586.32,2380.88 L586.32,2380.88 L583.38,2381.48 L583.38,2381.48 L580.45,2382.08 L580.45,2382.08 L577.51,2382.68 L577.51,2382.68 L574.57,2383.27 L574.57,2383.27 L571.64,2383.86 L571.64,2383.86 L568.70,2384.44 L568.70,2384.44 L565.76,2385.02 L565.76,2385.02 L562.83,2385.59 L562.83,2385.59 L559.89,2386.16 L559.89,2386.16 L556.95,2386.72 L556.95,2386.72 L554.02,2387.29 L554.02,2387.29 L551.08,2387.84 L551.08,2387.84 L548.14,2388.40 L548.14,2388.40 L545.21,2388.95 L545.21,2388.95 L542.27,2389.49 L542.27,2389.49 L539.33,2390.03 L539.33,2390.03 L536.40,2390.57 L536.40,2390.57 L533.46,2391.11 L533.46,2391.11 L530.52,2391.64 L530.52,2391.64 L527.59,2392.16 L527.59,2392.16 L524.65,2392.68 L524.65,2392.68 L521.71,2393.20 L521.71,2393.20 L518.78,2393.72 L518.78,2393.72 L515.84,2394.23 L515.84,2394.23 L512.90,2394.74 L512.90,2394.74 L509.97,2395.25 L509.97,2395.25 L507.03,2395.75 L507.03,2395.75 L504.09,2396.25 L504.09,2396.25 L501.16,2396.74 L501.16,2396.74 L498.22,2397.23 L498.22,2397.23 L495.28,2397.72 L495.28,2397.72 L492.35,2398.21 L492.35,2398.21 L489.41,2398.69 L489.41,2398.69 L486.47,2399.17 L486.47,2399.17 L483.54,2399.64 L483.54,2399.64 L480.60,2400.12 L480.60,2400.12 L477.66,2400.58 L477.66,2400.58 L474.73,2401.05 L474.73,2401.05 L471.79,2401.51 L471.79,2401.51 L468.85,2401.98 L468.85,2401.98 L465.92,2402.43 L465.92,2402.43 L462.98,2402.89 L462.98,2402.89 L460.04,2403.34 L460.04,2403.34 L457.11,2403.79 L457.11,2403.79 L454.17,2404.24 L454.17,2404.24 L451.23,2404.68 L451.23,2404.68 L448.30,2405.12 L448.30,2405.12 L445.36,2405.56 L445.36,2405.56 L442.42,2406.00 L442.42,2406.00 L439.49,2406.43 L439.49,2406.43 L436.55,2406.86 L436.55,2406.86 L433.61,2407.29 L433.61,2407.29 L430.68,2407.72 L430.68,2407.72 L427.74,2408.14 L427.74,2408.14 L424.80,2408.56 L424.80,2408.56 L421.87,2408.98 L421.87,2408.98 L418.93,2409.40 L418.93,2409.40 L415.99,2409.81 L415.99,2409.81 L413.06,2410.23 L413.06,2410.23 L410.12,2410.64 L410.12,2410.64 L407.18,2411.05 L407.18,2411.05 L404.25,2411.45 L404.25,2411.45 L401.31,2411.86 L401.31,2411.86 L398.37,2412.26 L398.37,2412.26 L395.44,2412.66 L395.44,2412.66 L392.50,2413.06 L392.50,2413.06 L389.56,2413.46 L389.56,2413.46 L386.62,2413.85 L386.62,2413.85 L383.69,2414.24 L383.69,2414.24 L380.75,2414.64 L380.75,2414.64 L377.81,2415.03 L377.81,2415.03 L374.88,2415.41 L374.88,2415.41 L371.94,2415.80 L371.94,2415.80 L369.00,2416.19 L369.00,2416.19 L366.07,2416.57 L366.07,2416.57 L363.13,2416.95 L363.13,2416.95 L360.19,2417.33 L360.19,2417.33 L357.26,2417.71 L357.26,2417.71 L354.32,2418.09 L354.32,2418.09 L351.38,2418.46 L351.38,2418.46 L348.45,2418.84 L348.45,2418.84 L345.51,2419.21 L345.51,2419.21 L342.57,2419.59 L342.57,2419.59 L339.64,2419.96 L339.64,2419.96 L336.70,2420.33 L336.70,2420.33 L333.76,2420.70 L333.76,2420.70 L330.83,2421.06 L330.83,2421.06 L327.89,2421.43 L327.89,2421.43 L324.95,2421.80 L324.95,2421.80 L322.02,2422.16 L322.02,2422.16 L319.08,2422.53 L319.08,2422.53 L316.14,2422.89 L316.14,2422.89 L313.21,2423.25 L313.21,2423.25 L310.27,2423.61 L310.27,2423.61 L307.33,2423.98 L307.33,2423.98 L304.40,2424.34 L304.40,2424.34 L301.46,2424.70 L301.46,2424.70 L298.52,2425.05 L298.52,2425.05 L295.59,2425.41 L295.59,2425.41 L292.65,2425.77 L292.65,2425.77 L289.71,2426.13 L289.71,2426.13 L286.78,2426.49 L286.78,2426.49 L283.84,2426.84 L283.84,2426.84 L280.90,2427.20 L280.90,2427.20 L277.97,2427.55 L277.97,2427.55 L275.03,2427.91 L275.03,2427.91 L272.09,2428.26 L272.09,2428.26 L269.16,2428.62 L269.16,2428.62 L266.22,2428.97 L266.22,2428.97 L263.28,2429.33 L263.28,2429.33 L260.35,2429.68 L260.35,2429.68 L257.41,2430.04 L257.41,2430.04 L254.47,2430.39 L254.47,2430.39 L251.54,2430.75 L251.54,2430.75 L248.60,2431.10Z" fill="#f20000"/>
<path d="M272.01,2430.04 L269.00,2437.32 L261.80,2437.32 L264.81,2430.04Z M269.00,2437.32 L263.42,2442.90 L256.22,2442.90 L261.80,2437.32Z M259.82,2446.50 L252.54,2449.51 L252.54,2442.31 L259.82,2439.30Z M252.54,2449.51 L244.66,2449.51 L244.66,2442.31 L252.54,2442.31Z M244.66,2449.51 L237.38,2446.50 L237.38,2439.30 L244.66,2442.31Z M233.78,2442.90 L228.20,2437.32 L235.40,2437.32 L240.98,2442.90Z M228.20,2437.32 L225.19,2430.04 L232.39,2430.04 L235.40,2437.32Z M225.19,2430.04 L225.19,2422.16 L232.39,2422.16 L232.39,2430.04Z M225.19,2422.16 L228.20,2414.88 L235.40,2414.88 L232.39,2422.16Z M228.20,2414.88 L233.78,2409.30 L240.98,2409.30 L235.40,2414.88Z M237.38,2405.70 L244.66,2402.69 L244.66,2409.89 L237.38,2412.90Z M244.66,2402.69 L252.54,2402.69 L252.54,2409.89 L244.66,2409.89Z M252.54,2402.69 L259.82,2405.70 L259.82,2412.90 L252.54,2409.89Z M263.42,2409.30 L269.00,2414.88 L261.80,2414.88 L256.22,2409.30Z M269.00,2414.88 L272.01,2422.16 L264.81,2422.16 L261.80,2414.88Z M272.01,2422.16 L272.01,2430.04 L264.81,2430.04 L264.81,2422.16Z" fill="#f20000"/>
<path d="M824.11,2321.14 L821.10,2328.42 L813.90,2328.42 L816.91,2321.14Z M821.10,2328.42 L815.52,2334.00 L808.32,2334.00 L813.90,2328.42Z M811.92,2337.60 L804.64,2340.61 L804.64,2333.41 L811.92,2330.40Z M804.64,2340.61 L796.76,2340.61 L796.76,2333.41 L804.64,2333.41Z M796.76,2340.61 L789.48,2337.60 L789.48,2330.40 L796.76,2333.41Z M785.88,2334.00 L780.30,2328.42 L787.50,2328.42 L793.08,2334.00Z M780.30,2328.42 L777.29,2321.14 L784.49,2321.14 L787.50,2328.42Z M777.29,2321.14 L777.29,2313.26 L784.49,2313.26 L784.49,2321.14Z M777.29,2313.26 L780.30,2305.98 L787.50,2305.98 L784.49,2313.26Z M780.30,2305.98 L785.88,2300.40 L793.08,2300.40 L787.50,2305.98Z M789.48,2296.80 L796.76,2293.79 L796.76,2300.99 L789.48,2304.00Z M796.76,2293.79 L804.64,2293.79 L804.64,2300.99 L796.76,2300.99Z M804.64,2293.79 L811.92,2296.80 L811.92,2304.00 L804.64,2300.99Z M815.52,2300.40 L821.10,2305.98 L813.90,2305.98 L808.32,2300.40Z M821.10,2305.98 L824.11,2313.26 L816.91,2313.26 L813.90,2305.98Z M824.11,2313.26 L824.11,2321.14 L816.91,2321.14 L816.91,2313.26Z" fill="#f20000"/>
<path d="M1021.41,2234.44 L1018.40,2241.72 L1011.20,2241.72 L1014.21,2234.44Z M1018.40,2241.72 L1012.82,2247.30 L1005.62,2247.30 L1011.20,2241.72Z M1009.22,2250.90 L1001.94,2253.91 L1001.94,2246.71 L1009.22,2243.70Z M1001.94,2253.91 L994.06,2253.91 L994.06,2246.71 L1001.94,2246.71Z M994.06,2253.91 L986.78,2250.90 L986.78,2243.70 L994.06,2246.71Z M983.18,2247.30 L977.60,2241.72 L984.80,2241.72 L990.38,2247.30Z M977.60,2241.72 L974.59,2234.44 L981.79,2234.44 L984.80,2241.72Z M974.59,2234.44 L974.59,2226.56 L981.79,2226.56 L981.79,2234.44Z M974.59,2226.56 L977.60,2219.28 L984.80,2219.28 L981.79,2226.56Z M977.60,2219.28 L983.18,2213.70 L990.38,2213.70 L984.80,2219.28Z M986.78,2210.10 L994.06,2207.09 L994.06,2214.29 L986.78,2217.30Z M994.06,2207.09 L1001.94,2207.09 L1001.94,2214.29 L994.06,2214.29Z M1001.94,2207.09 L1009.22,2210.10 L1009.22,2217.30 L1001.94,2214.29Z M1012.82,2213.70 L1018.40,2219.28 L1011.20,2219.28 L1005.62,2213.70Z M1018.40,2219.28 L1021.41,2226.56 L1014.21,2226.56 L1011.20,2219.28Z M1021.41,2226.56 L1021.41,2234.44 L1014.21,2234.44 L1014.21,2226.56Z" fill="#f20000"/>
<path d="M1337.61,1997.04 L1334.60,2004.32 L1327.40,2004.32 L1330.41,1997.04Z M1334.60,2004.32 L1329.02,2009.90 L1321.82,2009.90 L1327.40,2004.32Z M1325.42,2013.50 L1318.14,2016.51 L1318.14,2009.31 L1325.42,2006.30Z M1318.14,2016.51 L1310.26,2016.51 L1310.26,2009.31 L1318.14,2009.31Z M1310.26,2016.51 L1302.98,2013.50 L1302.98,2006.30 L1310.26,2009.31Z M1299.38,2009.90 L1293.80,2004.32 L1301.00,2004.32 L1306.58,2009.90Z M1293.80,2004.32 L1290.79,1997.04 L1297.99,1997.04 L1301.00,2004.32Z M1290.79,1997.04 L1290.79,1989.16 L1297.99,1989.16 L1297.99,1997.04Z M1290.79,1989.16 L1293.80,1981.88 L1301.00,1981.88 L1297.99,1989.16Z M1293.80,1981.88 L1299.38,1976.30 L1306.58,1976.30 L1301.00,1981.88Z M1302.98,1972.70 L1310.26,1969.69 L1310.26,1976.89 L1302.98,1979.90Z M1310.26,1969.69 L1318.14,1969.69 L1318.14,1976.89 L1310.26,1976.89Z M1318.14,1969.69 L1325.42,1972.70 L1325.42,1979.90 L1318.14,1976.89Z M1329.02,1976.30 L1334.60,1981.88 L1327.40,1981.88 L1321.82,1976.30Z M1334.60,1981.88 L1337.61,1989.16 L1330.41,1989.16 L1327.40,1981.88Z M1337.61,1989.16 L1337.61,1997.04 L1330.41,1997.04 L1330.41,1989.16Z" fill="#f20000"/>
<rect x="246.40" y="1344.80" width="4.4" height="1083.40" fill="#000"/>
<rect x="246.40" y="2424.00" width="1185.10" height="4.2" fill="#000"/>
<rect x="248.60" y="2381.85" width="6.20" height="2.0" fill="#000"/>
<rect x="248.60" y="2338.60" width="6.20" height="2.0" fill="#000"/>
<rect x="248.60" y="2295.34" width="6.20" height="2.0" fill="#000"/>
<rect x="248.60" y="2252.09" width="6.20" height="2.0" fill="#000"/>
<rect x="248.60" y="2208.54" width="15.30" height="2.6" fill="#000"/>
<rect x="248.60" y="2165.59" width="6.20" height="2.0" fill="#000"/>
<rect x="248.60" y="2122.34" width="6.20" height="2.0" fill="#000"/>
<rect x="248.60" y="2079.08" width="6.20" height="2.0" fill="#000"/>
<rect x="248.60" y="2035.83" width="6.20" height="2.0" fill="#000"/>
<rect x="248.60" y="1992.28" width="15.30" height="2.6" fill="#000"/>
<rect x="248.60" y="1949.33" width="6.20" height="2.0" fill="#000"/>
<rect x="248.60" y="1906.08" width="6.20" height="2.0" fill="#000"/>
<rect x="248.60" y="1862.82" width="6.20" height="2.0" fill="#000"/>
<rect x="248.60" y="1819.57" width="6.20" height="2.0" fill="#000"/>
<rect x="248.60" y="1776.02" width="15.30" height="2.6" fill="#000"/>
<rect x="248.60" y="1733.07" width="6.20" height="2.0" fill="#000"/>
<rect x="248.60" y="1689.82" width="6.20" height="2.0" fill="#000"/>
<rect x="248.60" y="1646.56" width="6.20" height="2.0" fill="#000"/>
<rect x="248.60" y="1603.31" width="6.20" height="2.0" fill="#000"/>
<rect x="248.60" y="1559.76" width="15.30" height="2.6" fill="#000"/>
<rect x="248.60" y="1516.81" width="6.20" height="2.0" fill="#000"/>
<rect x="248.60" y="1473.56" width="6.20" height="2.0" fill="#000"/>
<rect x="248.60" y="1430.30" width="6.20" height="2.0" fill="#000"/>
<rect x="248.60" y="1387.05" width="6.20" height="2.0" fill="#000"/>
<rect x="248.60" y="1343.50" width="15.30" height="2.6" fill="#000"/>
<g transform="translate(200.81,1365.60) scale(0.9504,1)"><text x="0" y="0" font-size="64.5">5</text></g>
<g transform="translate(200.08,1581.86) scale(0.9378,1)"><text x="0" y="0" font-size="64.5">4</text></g>
<g transform="translate(200.87,1798.12) scale(0.9014,1)"><text x="0" y="0" font-size="64.5">3</text></g>
<g transform="translate(199.00,2014.38) scale(0.9854,1)"><text x="0" y="0" font-size="64.5">2</text></g>
<g transform="translate(200.31,2230.64) scale(0.9951,1)"><text x="0" y="0" font-size="64.5">1</text><rect x="2.56" y="-8.08" width="12.49" height="9.58" fill="#fff"/><rect x="23.90" y="-8.08" width="11.67" height="9.58" fill="#fff"/></g>
<g transform="translate(199.71,2446.90) scale(0.9356,1)"><text x="0" y="0" font-size="64.5">0</text></g>
<g transform="translate(231.51,2474.80) scale(0.9356,1)"><text x="0" y="0" font-size="64.5">0</text></g>
<g transform="translate(402.01,2474.80) scale(0.9764,1)"><text x="0" y="0" font-size="64.5">0.5</text></g>
<g transform="translate(624.57,2474.80) scale(1.1644,1)"><text x="0" y="0" font-size="64.5">1</text><rect x="2.56" y="-8.08" width="12.49" height="9.58" fill="#fff"/><rect x="23.90" y="-8.08" width="11.67" height="9.58" fill="#fff"/></g>
<g transform="translate(796.92,2474.80) scale(0.9717,1)"><text x="0" y="0" font-size="64.5">1.5</text><rect x="2.56" y="-8.08" width="12.49" height="9.58" fill="#fff"/><rect x="23.90" y="-8.08" width="11.67" height="9.58" fill="#fff"/></g>
<g transform="translate(1019.71,2474.80) scale(0.9790,1)"><text x="0" y="0" font-size="64.5">2</text></g>
<g transform="translate(1191.03,2474.80) scale(0.9704,1)"><text x="0" y="0" font-size="64.5">2.5</text></g>
<g transform="translate(1415.50,2474.80) scale(0.9482,1)"><text x="0" y="0" font-size="64.5">3</text></g>
<text x="563.35" y="1412.00" font-size="77.4">(b) G23 - exhalation</text>
<rect x="744.20" y="1513.30" width="280.60" height="10" fill="#00d400"/>
<path d="M869.45,1499.85 L898.95,1499.85 L898.95,1507.25 L869.45,1507.25Z M902.65,1503.55 L902.65,1533.05 L895.25,1533.05 L895.25,1503.55Z M898.95,1536.75 L869.45,1536.75 L869.45,1529.35 L898.95,1529.35Z M865.75,1533.05 L865.75,1503.55 L873.15,1503.55 L873.15,1533.05Z" fill="#00d400"/>
<rect x="744.20" y="1587.90" width="280.60" height="10" fill="#f20000"/>
<path d="M907.61,1596.84 L904.60,1604.12 L897.40,1604.12 L900.41,1596.84Z M904.60,1604.12 L899.02,1609.70 L891.82,1609.70 L897.40,1604.12Z M895.42,1613.30 L888.14,1616.31 L888.14,1609.11 L895.42,1606.10Z M888.14,1616.31 L880.26,1616.31 L880.26,1609.11 L888.14,1609.11Z M880.26,1616.31 L872.98,1613.30 L872.98,1606.10 L880.26,1609.11Z M869.38,1609.70 L863.80,1604.12 L871.00,1604.12 L876.58,1609.70Z M863.80,1604.12 L860.79,1596.84 L867.99,1596.84 L871.00,1604.12Z M860.79,1596.84 L860.79,1588.96 L867.99,1588.96 L867.99,1596.84Z M860.79,1588.96 L863.80,1581.68 L871.00,1581.68 L867.99,1588.96Z M863.80,1581.68 L869.38,1576.10 L876.58,1576.10 L871.00,1581.68Z M872.98,1572.50 L880.26,1569.49 L880.26,1576.69 L872.98,1579.70Z M880.26,1569.49 L888.14,1569.49 L888.14,1576.69 L880.26,1576.69Z M888.14,1569.49 L895.42,1572.50 L895.42,1579.70 L888.14,1576.69Z M899.02,1576.10 L904.60,1581.68 L897.40,1581.68 L891.82,1576.10Z M904.60,1581.68 L907.61,1588.96 L900.41,1588.96 L897.40,1581.68Z M907.61,1588.96 L907.61,1596.84 L900.41,1596.84 L900.41,1588.96Z" fill="#f20000"/>
<text x="1072.18" y="1537.70" font-size="62.5">50-year-old</text>
<text x="1072.12" y="1611.50" font-size="62.5">80-year-old</text>
<text transform="translate(152.50,2166.20) rotate(-90)" font-size="68.9">Shear stress (Pa)</text>
<text y="2553.40" font-size="69"><tspan x="420.5">Shear strain (10</tspan><tspan x="936.7" y="2518.70" font-size="41">-2</tspan><tspan x="973" y="2553.40">mm/mm)</tspan></text>
<rect x="864.33" y="2544.86" width="13.26" height="10.04" fill="#fff"/>
<rect x="887.06" y="2544.86" width="12.38" height="10.04" fill="#fff"/>
</svg>
</body></html>
